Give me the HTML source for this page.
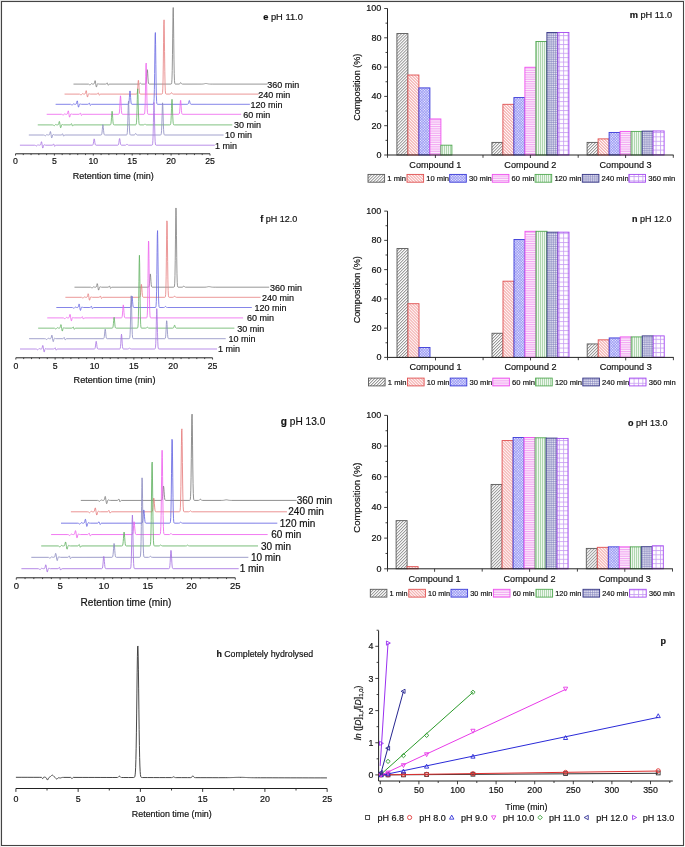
<!DOCTYPE html>
<html><head><meta charset="utf-8"><style>
html,body{margin:0;padding:0;background:#fff;}
body{width:685px;height:847px;overflow:hidden;font-family:"Liberation Sans", sans-serif;}
svg{display:block;will-change:transform;filter:blur(0.35px);}
text{stroke:#111;stroke-width:0.18px;}
</style></head><body>
<svg width="685" height="847" viewBox="0 0 685 847" font-family='"Liberation Sans", sans-serif' fill="#111">
<rect x="0" y="0" width="685" height="847" fill="#fff"/>
<line x1="15.5" y1="153.8" x2="210" y2="153.8" stroke="#222" stroke-width="1"/>
<line x1="15.5" y1="153.8" x2="15.5" y2="155.6" stroke="#222" stroke-width="0.8"/>
<text x="15.5" y="163.9" font-size="8.7" text-anchor="middle">0</text>
<line x1="23.28" y1="153.8" x2="23.28" y2="155.1" stroke="#222" stroke-width="0.8"/>
<line x1="31.06" y1="153.8" x2="31.06" y2="155.1" stroke="#222" stroke-width="0.8"/>
<line x1="38.84" y1="153.8" x2="38.84" y2="155.1" stroke="#222" stroke-width="0.8"/>
<line x1="46.62" y1="153.8" x2="46.62" y2="155.1" stroke="#222" stroke-width="0.8"/>
<line x1="54.4" y1="153.8" x2="54.4" y2="155.6" stroke="#222" stroke-width="0.8"/>
<text x="54.4" y="163.9" font-size="8.7" text-anchor="middle">5</text>
<line x1="62.18" y1="153.8" x2="62.18" y2="155.1" stroke="#222" stroke-width="0.8"/>
<line x1="69.96" y1="153.8" x2="69.96" y2="155.1" stroke="#222" stroke-width="0.8"/>
<line x1="77.74" y1="153.8" x2="77.74" y2="155.1" stroke="#222" stroke-width="0.8"/>
<line x1="85.52" y1="153.8" x2="85.52" y2="155.1" stroke="#222" stroke-width="0.8"/>
<line x1="93.3" y1="153.8" x2="93.3" y2="155.6" stroke="#222" stroke-width="0.8"/>
<text x="93.3" y="163.9" font-size="8.7" text-anchor="middle">10</text>
<line x1="101.08" y1="153.8" x2="101.08" y2="155.1" stroke="#222" stroke-width="0.8"/>
<line x1="108.86" y1="153.8" x2="108.86" y2="155.1" stroke="#222" stroke-width="0.8"/>
<line x1="116.64" y1="153.8" x2="116.64" y2="155.1" stroke="#222" stroke-width="0.8"/>
<line x1="124.42" y1="153.8" x2="124.42" y2="155.1" stroke="#222" stroke-width="0.8"/>
<line x1="132.2" y1="153.8" x2="132.2" y2="155.6" stroke="#222" stroke-width="0.8"/>
<text x="132.2" y="163.9" font-size="8.7" text-anchor="middle">15</text>
<line x1="139.98" y1="153.8" x2="139.98" y2="155.1" stroke="#222" stroke-width="0.8"/>
<line x1="147.76" y1="153.8" x2="147.76" y2="155.1" stroke="#222" stroke-width="0.8"/>
<line x1="155.54" y1="153.8" x2="155.54" y2="155.1" stroke="#222" stroke-width="0.8"/>
<line x1="163.32" y1="153.8" x2="163.32" y2="155.1" stroke="#222" stroke-width="0.8"/>
<line x1="171.1" y1="153.8" x2="171.1" y2="155.6" stroke="#222" stroke-width="0.8"/>
<text x="171.1" y="163.9" font-size="8.7" text-anchor="middle">20</text>
<line x1="178.88" y1="153.8" x2="178.88" y2="155.1" stroke="#222" stroke-width="0.8"/>
<line x1="186.66" y1="153.8" x2="186.66" y2="155.1" stroke="#222" stroke-width="0.8"/>
<line x1="194.44" y1="153.8" x2="194.44" y2="155.1" stroke="#222" stroke-width="0.8"/>
<line x1="202.22" y1="153.8" x2="202.22" y2="155.1" stroke="#222" stroke-width="0.8"/>
<line x1="210" y1="153.8" x2="210" y2="155.6" stroke="#222" stroke-width="0.8"/>
<text x="210" y="163.9" font-size="8.7" text-anchor="middle">25</text>
<text x="113.2" y="179.1" font-size="9.0" text-anchor="middle">Retention time (min)</text>
<path d="M73.48,84.1 L88.23,84.11 L88.48,84.14 L88.73,84.19 L88.98,84.3 L89.23,84.47 L89.48,84.66 L89.73,84.83 L89.98,84.89 L90.23,84.8 L90.48,84.57 L90.73,84.25 L90.98,83.94 L91.23,83.71 L91.48,83.65 L91.73,83.72 L91.98,83.86 L92.23,83.98 L92.48,84.06 L92.73,84.09 L93.23,84.1 L93.48,84.09 L93.73,84.06 L93.98,83.92 L94.23,83.5 L94.48,82.62 L94.73,81.44 L94.98,80.61 L95.23,80.81 L95.48,82.08 L95.73,83.89 L95.98,85.63 L96.23,86.8 L96.48,86.98 L96.73,86.26 L96.98,85.19 L97.23,84.33 L97.48,83.83 L97.73,83.64 L97.98,83.64 L98.23,83.77 L98.48,83.91 L98.73,84.02 L98.98,84.07 L99.23,84.09 L105.73,84.1 L105.98,84.08 L106.23,84.01 L106.48,83.81 L106.73,83.44 L106.98,83.02 L107.23,82.85 L107.48,83.22 L107.73,84.04 L107.98,84.86 L108.23,85.24 L108.48,85.1 L108.73,84.71 L108.98,84.37 L109.23,84.19 L109.48,84.12 L109.73,84.1 L138.73,84.1 L138.98,84.08 L139.23,84.04 L139.48,83.93 L139.73,83.75 L139.98,83.52 L140.23,83.34 L140.48,83.31 L140.73,83.45 L140.98,83.67 L141.23,83.88 L141.48,84.01 L141.73,84.07 L141.98,84.09 L145.23,84.09 L145.48,84.07 L145.73,83.95 L145.98,83.52 L146.23,82.34 L146.48,79.89 L146.73,76.09 L146.98,72.02 L147.23,69.63 L147.48,70.35 L147.73,73.73 L147.98,77.89 L148.23,81.15 L148.48,82.99 L148.73,83.77 L148.98,84.02 L149.23,84.09 L149.48,84.1 L170.98,84.09 L171.23,84.04 L171.48,83.78 L171.73,82.69 L171.98,79.21 L172.23,70.64 L172.48,54.69 L172.73,33.12 L172.98,13.97 L173.23,7.53 L173.48,17.75 L173.73,38.47 L173.98,59.2 L174.23,73.31 L174.48,80.39 L174.73,83.09 L174.98,83.88 L175.23,84.06 L175.48,84.09 L178.98,84.09 L179.23,84.07 L179.48,84 L179.73,83.84 L179.98,83.52 L180.23,83.1 L180.48,82.73 L180.73,82.6 L180.98,82.8 L181.23,83.21 L181.48,83.61 L181.73,83.89 L181.98,84.03 L182.23,84.08 L182.48,84.1 L201.73,84.09 L202.73,84.04 L202.98,84.02 L203.23,83.99 L203.48,83.95 L203.73,83.91 L203.98,83.86 L204.23,83.8 L204.48,83.74 L204.73,83.68 L204.98,83.62 L205.23,83.57 L205.48,83.53 L205.73,83.51 L206.23,83.51 L206.48,83.53 L206.73,83.57 L206.98,83.62 L207.23,83.67 L207.48,83.73 L207.73,83.79 L207.98,83.85 L208.23,83.9 L208.48,83.95 L208.73,83.99 L208.98,84.02 L209.23,84.04 L209.48,84.06 L209.73,84.07 L210.23,84.09 L212.23,84.1 L267.42,84.1" fill="none" stroke="#7c7c7c" stroke-width="0.8" stroke-linejoin="round"/>
<text x="267.3" y="87.5" font-size="9.0">360 min</text>
<path d="M64.55,94.1 L79.3,94.11 L79.55,94.14 L79.8,94.19 L80.05,94.3 L80.3,94.47 L80.55,94.66 L80.8,94.83 L81.05,94.89 L81.3,94.8 L81.55,94.57 L81.8,94.25 L82.05,93.94 L82.3,93.71 L82.55,93.65 L82.8,93.72 L83.05,93.86 L83.3,93.98 L83.55,94.06 L83.8,94.09 L84.3,94.1 L84.55,94.09 L84.8,94.06 L85.05,93.92 L85.3,93.5 L85.55,92.62 L85.8,91.44 L86.05,90.61 L86.3,90.81 L86.55,92.08 L86.8,93.89 L87.05,95.63 L87.3,96.8 L87.55,96.98 L87.8,96.26 L88.05,95.19 L88.3,94.33 L88.55,93.83 L88.8,93.64 L89.05,93.64 L89.3,93.77 L89.55,93.91 L89.8,94.02 L90.05,94.07 L90.3,94.09 L96.8,94.1 L97.05,94.08 L97.3,94.01 L97.55,93.81 L97.8,93.44 L98.05,93.02 L98.3,92.85 L98.55,93.22 L98.8,94.04 L99.05,94.86 L99.3,95.24 L99.55,95.1 L99.8,94.71 L100.05,94.37 L100.3,94.19 L100.55,94.12 L100.8,94.1 L136.3,94.1 L136.55,94.07 L136.8,93.98 L137.05,93.62 L137.3,92.6 L137.55,90.39 L137.8,86.85 L138.05,82.86 L138.3,80.26 L138.55,80.57 L138.8,83.61 L139.05,87.64 L139.3,90.95 L139.55,92.88 L139.8,93.72 L140.05,94.01 L140.3,94.08 L140.55,94.1 L161.8,94.09 L162.05,94.03 L162.3,93.74 L162.55,92.57 L162.8,88.9 L163.05,80.04 L163.3,63.95 L163.55,42.8 L163.8,24.82 L164.05,19.84 L164.3,30.94 L164.55,51.46 L164.8,71.26 L165.05,84.39 L165.3,90.82 L165.55,93.22 L165.8,93.91 L166.05,94.07 L166.3,94.1 L169.8,94.09 L170.05,94.07 L170.3,94 L170.55,93.82 L170.8,93.49 L171.05,93.07 L171.3,92.71 L171.55,92.61 L171.8,92.83 L172.05,93.24 L172.3,93.64 L172.55,93.9 L172.8,94.03 L173.05,94.08 L173.3,94.1 L258.65,94.1" fill="none" stroke="#e67e7e" stroke-width="0.8" stroke-linejoin="round"/>
<text x="258.3" y="97.5" font-size="9.0">240 min</text>
<path d="M55.62,104.3 L70.37,104.31 L70.62,104.34 L70.87,104.39 L71.12,104.5 L71.37,104.67 L71.62,104.86 L71.87,105.03 L72.12,105.09 L72.37,105 L72.62,104.77 L72.87,104.45 L73.12,104.14 L73.37,103.91 L73.62,103.85 L73.87,103.92 L74.12,104.06 L74.37,104.18 L74.62,104.26 L74.87,104.29 L75.37,104.3 L75.62,104.29 L75.87,104.26 L76.12,104.12 L76.37,103.7 L76.62,102.82 L76.87,101.64 L77.12,100.81 L77.37,101.01 L77.62,102.28 L77.87,104.09 L78.12,105.83 L78.37,107 L78.62,107.18 L78.87,106.46 L79.12,105.39 L79.37,104.53 L79.62,104.03 L79.87,103.84 L80.12,103.84 L80.37,103.97 L80.62,104.11 L80.87,104.22 L81.12,104.27 L81.37,104.29 L87.87,104.3 L88.12,104.28 L88.37,104.21 L88.62,104.01 L88.87,103.64 L89.12,103.22 L89.37,103.05 L89.62,103.42 L89.87,104.24 L90.12,105.06 L90.37,105.44 L90.62,105.3 L90.87,104.91 L91.12,104.57 L91.37,104.39 L91.62,104.32 L91.87,104.3 L127.87,104.3 L128.12,104.28 L128.37,104.2 L128.62,103.9 L128.87,103.01 L129.12,101.03 L129.37,97.72 L129.62,93.81 L129.87,91.02 L130.12,90.96 L130.37,93.66 L130.62,97.57 L130.87,100.92 L131.12,102.95 L131.37,103.87 L131.62,104.19 L131.87,104.28 L132.12,104.3 L153.12,104.29 L153.37,104.23 L153.62,103.91 L153.87,102.65 L154.12,98.78 L154.37,89.67 L154.62,73.51 L154.87,52.87 L155.12,36.11 L155.37,32.55 L155.62,44.39 L155.87,64.6 L156.12,83.42 L156.37,95.58 L156.62,101.41 L156.87,103.54 L157.12,104.14 L157.37,104.27 L157.62,104.3 L187.37,104.3 L187.62,104.28 L187.87,104.21 L188.12,104.01 L188.37,103.53 L188.62,102.68 L188.87,101.6 L189.12,100.72 L189.37,100.53 L189.62,101.16 L189.87,102.22 L190.12,103.2 L190.37,103.84 L190.62,104.15 L190.87,104.26 L191.12,104.29 L249.88,104.3" fill="none" stroke="#6666e2" stroke-width="0.8" stroke-linejoin="round"/>
<text x="250.5" y="107.7" font-size="9.0">120 min</text>
<path d="M46.69,114.3 L61.44,114.31 L61.69,114.34 L61.94,114.39 L62.19,114.5 L62.44,114.67 L62.69,114.86 L62.94,115.03 L63.19,115.09 L63.44,115 L63.69,114.77 L63.94,114.45 L64.19,114.14 L64.44,113.91 L64.69,113.85 L64.94,113.92 L65.19,114.06 L65.44,114.18 L65.69,114.26 L65.94,114.29 L66.44,114.3 L66.69,114.29 L66.94,114.26 L67.19,114.12 L67.44,113.7 L67.69,112.82 L67.94,111.64 L68.19,110.81 L68.44,111.01 L68.69,112.28 L68.94,114.09 L69.19,115.83 L69.44,117 L69.69,117.18 L69.94,116.46 L70.19,115.39 L70.44,114.53 L70.69,114.03 L70.94,113.84 L71.19,113.84 L71.44,113.97 L71.69,114.11 L71.94,114.22 L72.19,114.27 L72.44,114.29 L78.94,114.3 L79.19,114.28 L79.44,114.21 L79.69,114.01 L79.94,113.64 L80.19,113.22 L80.44,113.05 L80.69,113.42 L80.94,114.24 L81.19,115.06 L81.44,115.44 L81.69,115.3 L81.94,114.91 L82.19,114.57 L82.44,114.39 L82.69,114.32 L82.94,114.3 L118.44,114.29 L118.69,114.26 L118.94,114.09 L119.19,113.52 L119.44,111.97 L119.69,108.77 L119.94,103.88 L120.19,98.73 L120.44,95.82 L120.69,96.9 L120.94,101.3 L121.19,106.59 L121.44,110.67 L121.69,112.94 L121.94,113.9 L122.19,114.21 L122.44,114.28 L122.69,114.3 L143.94,114.29 L144.19,114.24 L144.44,113.98 L144.69,112.98 L144.94,109.98 L145.19,103.05 L145.44,91.06 L145.69,76.19 L145.94,64.7 L146.19,63.07 L146.44,72.31 L146.69,86.98 L146.94,100.2 L147.19,108.52 L147.44,112.42 L147.69,113.81 L147.94,114.2 L148.19,114.28 L148.44,114.3 L178.44,114.3 L178.69,114.28 L178.94,114.21 L179.19,113.94 L179.44,113.12 L179.69,111.23 L179.94,107.95 L180.19,103.89 L180.44,100.76 L180.69,100.31 L180.94,102.83 L181.19,106.84 L181.44,110.45 L181.69,112.72 L181.94,113.79 L182.19,114.17 L182.44,114.27 L182.69,114.3 L241.11,114.3" fill="none" stroke="#ee62ee" stroke-width="0.8" stroke-linejoin="round"/>
<text x="243.2" y="117.7" font-size="9.0">60 min</text>
<path d="M37.76,124.9 L52.51,124.91 L52.76,124.94 L53.01,124.99 L53.26,125.1 L53.51,125.27 L53.76,125.46 L54.01,125.63 L54.26,125.69 L54.51,125.6 L54.76,125.37 L55.01,125.05 L55.26,124.74 L55.51,124.51 L55.76,124.45 L56.01,124.52 L56.26,124.66 L56.51,124.78 L56.76,124.86 L57.01,124.89 L57.51,124.9 L57.76,124.89 L58.01,124.86 L58.26,124.72 L58.51,124.3 L58.76,123.42 L59.01,122.24 L59.26,121.41 L59.51,121.61 L59.76,122.88 L60.01,124.69 L60.26,126.43 L60.51,127.6 L60.76,127.78 L61.01,127.06 L61.26,125.99 L61.51,125.13 L61.76,124.63 L62.01,124.44 L62.26,124.44 L62.51,124.57 L62.76,124.71 L63.01,124.82 L63.26,124.87 L63.51,124.89 L70.01,124.9 L70.26,124.88 L70.51,124.81 L70.76,124.61 L71.01,124.24 L71.26,123.82 L71.51,123.65 L71.76,124.02 L72.01,124.84 L72.26,125.66 L72.51,126.04 L72.76,125.9 L73.01,125.51 L73.26,125.17 L73.51,124.99 L73.76,124.92 L74.01,124.9 L110.01,124.9 L110.26,124.87 L110.51,124.77 L110.76,124.4 L111.01,123.36 L111.26,121.13 L111.51,117.6 L111.76,113.68 L112.01,111.21 L112.26,111.64 L112.51,114.71 L112.76,118.69 L113.01,121.89 L113.26,123.75 L113.51,124.55 L113.76,124.81 L114.01,124.88 L114.26,124.9 L135.51,124.89 L135.76,124.87 L136.01,124.72 L136.26,124.12 L136.51,122.25 L136.76,117.82 L137.01,109.85 L137.26,99.52 L137.51,90.94 L137.76,88.84 L138.01,94.51 L138.26,104.57 L138.51,114.11 L138.76,120.35 L139.01,123.38 L139.26,124.5 L139.51,124.82 L139.76,124.89 L140.01,124.9 L143.26,124.9 L143.51,124.88 L143.76,124.84 L144.01,124.74 L144.26,124.54 L144.51,124.26 L144.76,124 L145.01,123.9 L145.26,124.02 L145.51,124.28 L145.76,124.56 L146.01,124.75 L146.26,124.85 L146.51,124.89 L146.76,124.9 L169.76,124.9 L170.01,124.88 L170.26,124.81 L170.51,124.48 L170.76,123.41 L171.01,120.72 L171.26,115.6 L171.51,108.48 L171.76,101.89 L172.01,99.3 L172.26,102.31 L172.51,109.07 L172.76,116.1 L173.01,121.02 L173.26,123.54 L173.51,124.52 L173.76,124.82 L174.01,124.89 L174.26,124.9 L232.34,124.9" fill="none" stroke="#62b262" stroke-width="0.8" stroke-linejoin="round"/>
<text x="233.9" y="128.3" font-size="9.0">30 min</text>
<path d="M28.83,135 L43.58,135.01 L43.83,135.04 L44.08,135.09 L44.33,135.2 L44.58,135.37 L44.83,135.56 L45.08,135.73 L45.33,135.79 L45.58,135.7 L45.83,135.47 L46.08,135.15 L46.33,134.84 L46.58,134.61 L46.83,134.55 L47.08,134.62 L47.33,134.76 L47.58,134.88 L47.83,134.96 L48.08,134.99 L48.58,135 L48.83,134.99 L49.08,134.96 L49.33,134.82 L49.58,134.4 L49.83,133.52 L50.08,132.34 L50.33,131.51 L50.58,131.71 L50.83,132.98 L51.08,134.79 L51.33,136.53 L51.58,137.7 L51.83,137.88 L52.08,137.16 L52.33,136.09 L52.58,135.23 L52.83,134.73 L53.08,134.54 L53.33,134.54 L53.58,134.67 L53.83,134.81 L54.08,134.92 L54.33,134.97 L54.58,134.99 L61.08,135 L61.33,134.98 L61.58,134.91 L61.83,134.71 L62.08,134.34 L62.33,133.92 L62.58,133.75 L62.83,134.12 L63.08,134.94 L63.33,135.76 L63.58,136.14 L63.83,136 L64.08,135.61 L64.33,135.27 L64.58,135.09 L64.83,135.02 L65.08,135 L100.83,135 L101.08,134.98 L101.33,134.89 L101.58,134.59 L101.83,133.75 L102.08,132 L102.33,129.3 L102.58,126.39 L102.83,124.69 L103.08,125.2 L103.33,127.61 L103.58,130.58 L103.83,132.9 L104.08,134.21 L104.33,134.76 L104.58,134.94 L104.83,134.99 L105.33,135 L126.33,134.99 L126.58,134.96 L126.83,134.8 L127.08,134.18 L127.33,132.28 L127.58,127.85 L127.83,120.09 L128.08,110.32 L128.33,102.58 L128.58,101.2 L128.83,107.04 L129.08,116.64 L129.33,125.43 L129.58,131.04 L129.83,133.7 L130.08,134.66 L130.33,134.93 L130.58,134.99 L131.08,135 L134.08,134.99 L134.33,134.95 L134.58,134.85 L134.83,134.63 L135.08,134.26 L135.33,133.84 L135.58,133.54 L135.83,133.55 L136.08,133.85 L136.33,134.28 L136.58,134.64 L136.83,134.86 L137.08,134.96 L137.33,134.99 L137.83,135 L160.33,135 L160.58,134.98 L160.83,134.9 L161.08,134.55 L161.33,133.37 L161.58,130.3 L161.83,124.24 L162.08,115.47 L162.33,106.86 L162.58,102.82 L162.83,105.8 L163.08,113.97 L163.33,122.98 L163.58,129.55 L163.83,133.04 L164.08,134.44 L164.33,134.87 L164.58,134.98 L164.83,135 L223.57,135" fill="none" stroke="#8c8cc0" stroke-width="0.8" stroke-linejoin="round"/>
<text x="225.1" y="138.4" font-size="9.0">10 min</text>
<path d="M19.9,145.2 L34.65,145.21 L34.9,145.24 L35.15,145.29 L35.4,145.4 L35.65,145.57 L35.9,145.76 L36.15,145.93 L36.4,145.99 L36.65,145.9 L36.9,145.67 L37.15,145.35 L37.4,145.04 L37.65,144.81 L37.9,144.75 L38.15,144.82 L38.4,144.96 L38.65,145.08 L38.9,145.16 L39.15,145.19 L39.65,145.2 L39.9,145.19 L40.15,145.16 L40.4,145.02 L40.65,144.6 L40.9,143.72 L41.15,142.54 L41.4,141.71 L41.65,141.91 L41.9,143.18 L42.15,144.99 L42.4,146.73 L42.65,147.9 L42.9,148.08 L43.15,147.36 L43.4,146.29 L43.65,145.43 L43.9,144.93 L44.15,144.74 L44.4,144.74 L44.65,144.87 L44.9,145.01 L45.15,145.12 L45.4,145.17 L45.65,145.19 L52.15,145.2 L52.4,145.18 L52.65,145.11 L52.9,144.91 L53.15,144.54 L53.4,144.12 L53.65,143.95 L53.9,144.32 L54.15,145.14 L54.4,145.96 L54.65,146.34 L54.9,146.2 L55.15,145.81 L55.4,145.47 L55.65,145.29 L55.9,145.22 L56.15,145.2 L92.15,145.2 L92.4,145.18 L92.65,145.12 L92.9,144.92 L93.15,144.37 L93.4,143.24 L93.65,141.54 L93.9,139.78 L94.15,138.83 L94.4,139.26 L94.65,140.8 L94.9,142.61 L95.15,143.99 L95.4,144.75 L95.65,145.07 L95.9,145.17 L96.15,145.19 L117.65,145.19 L117.9,145.17 L118.15,145.06 L118.4,144.73 L118.65,143.94 L118.9,142.49 L119.15,140.59 L119.4,138.98 L119.65,138.53 L119.9,139.53 L120.15,141.37 L120.4,143.15 L120.65,144.33 L120.9,144.91 L121.15,145.12 L121.4,145.18 L121.65,145.2 L125.4,145.19 L125.65,145.17 L125.9,145.09 L126.15,144.94 L126.4,144.69 L126.65,144.4 L126.9,144.22 L127.15,144.24 L127.4,144.46 L127.65,144.74 L127.9,144.98 L128.15,145.11 L128.4,145.17 L128.65,145.19 L151.65,145.2 L151.9,145.19 L152.15,145.12 L152.4,144.82 L152.65,143.7 L152.9,140.54 L153.15,133.71 L153.4,122.74 L153.65,110.36 L153.9,102.3 L154.15,103.28 L154.4,112.69 L154.65,125.19 L154.9,135.43 L155.15,141.41 L155.4,144.03 L155.65,144.92 L155.9,145.14 L156.15,145.19 L214.8,145.2" fill="none" stroke="#a874e2" stroke-width="0.8" stroke-linejoin="round"/>
<text x="215" y="148.6" font-size="9.0">1 min</text>
<text x="263.2" y="19.9" font-size="9.3"><tspan font-weight="bold">e</tspan> pH 11.0</text>
<line x1="15.8" y1="357.8" x2="212.55" y2="357.8" stroke="#222" stroke-width="1"/>
<line x1="15.8" y1="357.8" x2="15.8" y2="359.6" stroke="#222" stroke-width="0.8"/>
<text x="15.8" y="368.7" font-size="8.7" text-anchor="middle">0</text>
<line x1="23.67" y1="357.8" x2="23.67" y2="359.1" stroke="#222" stroke-width="0.8"/>
<line x1="31.54" y1="357.8" x2="31.54" y2="359.1" stroke="#222" stroke-width="0.8"/>
<line x1="39.41" y1="357.8" x2="39.41" y2="359.1" stroke="#222" stroke-width="0.8"/>
<line x1="47.28" y1="357.8" x2="47.28" y2="359.1" stroke="#222" stroke-width="0.8"/>
<line x1="55.15" y1="357.8" x2="55.15" y2="359.6" stroke="#222" stroke-width="0.8"/>
<text x="55.15" y="368.7" font-size="8.7" text-anchor="middle">5</text>
<line x1="63.02" y1="357.8" x2="63.02" y2="359.1" stroke="#222" stroke-width="0.8"/>
<line x1="70.89" y1="357.8" x2="70.89" y2="359.1" stroke="#222" stroke-width="0.8"/>
<line x1="78.76" y1="357.8" x2="78.76" y2="359.1" stroke="#222" stroke-width="0.8"/>
<line x1="86.63" y1="357.8" x2="86.63" y2="359.1" stroke="#222" stroke-width="0.8"/>
<line x1="94.5" y1="357.8" x2="94.5" y2="359.6" stroke="#222" stroke-width="0.8"/>
<text x="94.5" y="368.7" font-size="8.7" text-anchor="middle">10</text>
<line x1="102.37" y1="357.8" x2="102.37" y2="359.1" stroke="#222" stroke-width="0.8"/>
<line x1="110.24" y1="357.8" x2="110.24" y2="359.1" stroke="#222" stroke-width="0.8"/>
<line x1="118.11" y1="357.8" x2="118.11" y2="359.1" stroke="#222" stroke-width="0.8"/>
<line x1="125.98" y1="357.8" x2="125.98" y2="359.1" stroke="#222" stroke-width="0.8"/>
<line x1="133.85" y1="357.8" x2="133.85" y2="359.6" stroke="#222" stroke-width="0.8"/>
<text x="133.85" y="368.7" font-size="8.7" text-anchor="middle">15</text>
<line x1="141.72" y1="357.8" x2="141.72" y2="359.1" stroke="#222" stroke-width="0.8"/>
<line x1="149.59" y1="357.8" x2="149.59" y2="359.1" stroke="#222" stroke-width="0.8"/>
<line x1="157.46" y1="357.8" x2="157.46" y2="359.1" stroke="#222" stroke-width="0.8"/>
<line x1="165.33" y1="357.8" x2="165.33" y2="359.1" stroke="#222" stroke-width="0.8"/>
<line x1="173.2" y1="357.8" x2="173.2" y2="359.6" stroke="#222" stroke-width="0.8"/>
<text x="173.2" y="368.7" font-size="8.7" text-anchor="middle">20</text>
<line x1="181.07" y1="357.8" x2="181.07" y2="359.1" stroke="#222" stroke-width="0.8"/>
<line x1="188.94" y1="357.8" x2="188.94" y2="359.1" stroke="#222" stroke-width="0.8"/>
<line x1="196.81" y1="357.8" x2="196.81" y2="359.1" stroke="#222" stroke-width="0.8"/>
<line x1="204.68" y1="357.8" x2="204.68" y2="359.1" stroke="#222" stroke-width="0.8"/>
<line x1="212.55" y1="357.8" x2="212.55" y2="359.6" stroke="#222" stroke-width="0.8"/>
<text x="212.55" y="368.7" font-size="8.7" text-anchor="middle">25</text>
<text x="114.5" y="383.3" font-size="9.1" text-anchor="middle">Retention time (min)</text>
<path d="M74.48,287.2 L90.23,287.21 L90.48,287.22 L90.73,287.25 L90.98,287.33 L91.23,287.46 L91.48,287.65 L91.73,287.84 L91.98,287.98 L92.23,287.98 L92.48,287.84 L92.73,287.57 L92.98,287.24 L93.23,286.95 L93.48,286.77 L93.73,286.75 L93.98,286.86 L94.23,287 L94.48,287.11 L94.73,287.17 L94.98,287.19 L95.73,287.19 L95.98,287.14 L96.23,286.96 L96.48,286.45 L96.73,285.49 L96.98,284.32 L97.23,283.63 L97.48,284.02 L97.73,285.41 L97.98,287.24 L98.23,288.94 L98.48,290 L98.73,290.07 L98.98,289.28 L99.23,288.22 L99.48,287.38 L99.73,286.91 L99.98,286.73 L100.23,286.74 L100.48,286.87 L100.73,287.01 L100.98,287.12 L101.23,287.17 L101.48,287.19 L107.98,287.2 L108.23,287.19 L108.48,287.14 L108.73,286.98 L108.98,286.66 L109.23,286.23 L109.48,285.94 L109.73,286.12 L109.98,286.83 L110.23,287.71 L110.48,288.28 L110.73,288.31 L110.98,287.97 L111.23,287.59 L111.48,287.34 L111.73,287.24 L111.98,287.21 L148.23,287.2 L148.48,287.17 L148.73,287.06 L148.98,286.67 L149.23,285.59 L149.48,283.34 L149.73,279.85 L149.98,276.11 L150.23,273.92 L150.48,274.58 L150.73,277.68 L150.98,281.5 L151.23,284.49 L151.48,286.18 L151.73,286.89 L151.98,287.13 L152.23,287.19 L152.48,287.2 L173.73,287.19 L173.98,287.16 L174.23,286.96 L174.48,286.09 L174.73,283.18 L174.98,275.62 L175.23,260.71 L175.48,239.1 L175.73,217.9 L175.98,207.96 L176.23,215.29 L176.48,235.41 L176.73,257.6 L176.98,273.77 L177.23,282.37 L177.48,285.82 L177.73,286.89 L177.98,287.14 L178.23,287.19 L182.23,287.19 L182.48,287.15 L182.73,287.06 L182.98,286.85 L183.23,286.54 L183.48,286.21 L183.73,286.01 L183.98,286.07 L184.23,286.35 L184.48,286.69 L184.73,286.96 L184.98,287.11 L185.23,287.17 L185.48,287.19 L203.98,287.2 L204.98,287.18 L205.98,287.12 L206.23,287.09 L206.48,287.05 L206.73,287.01 L206.98,286.96 L207.23,286.9 L207.48,286.84 L207.73,286.78 L207.98,286.72 L208.23,286.67 L208.48,286.63 L208.73,286.61 L209.23,286.61 L209.48,286.63 L209.73,286.67 L209.98,286.72 L210.23,286.77 L210.48,286.83 L210.73,286.89 L210.98,286.95 L211.23,287 L211.48,287.05 L211.73,287.09 L211.98,287.12 L212.23,287.14 L212.48,287.16 L212.73,287.17 L213.23,287.19 L215.23,287.2 L269.2,287.2" fill="none" stroke="#7c7c7c" stroke-width="0.8" stroke-linejoin="round"/>
<text x="269.9" y="290.6" font-size="9.0">360 min</text>
<path d="M65.4,297.3 L81.15,297.31 L81.4,297.32 L81.65,297.35 L81.9,297.43 L82.15,297.56 L82.4,297.75 L82.65,297.94 L82.9,298.08 L83.15,298.08 L83.4,297.94 L83.65,297.67 L83.9,297.34 L84.15,297.05 L84.4,296.87 L84.65,296.85 L84.9,296.96 L85.15,297.1 L85.4,297.21 L85.65,297.27 L85.9,297.29 L86.65,297.29 L86.9,297.24 L87.15,297.06 L87.4,296.55 L87.65,295.59 L87.9,294.42 L88.15,293.73 L88.4,294.12 L88.65,295.51 L88.9,297.34 L89.15,299.04 L89.4,300.1 L89.65,300.17 L89.9,299.38 L90.15,298.32 L90.4,297.48 L90.65,297.01 L90.9,296.83 L91.15,296.84 L91.4,296.97 L91.65,297.11 L91.9,297.22 L92.15,297.27 L92.4,297.29 L98.9,297.3 L99.15,297.29 L99.4,297.24 L99.65,297.08 L99.9,296.76 L100.15,296.33 L100.4,296.04 L100.65,296.22 L100.9,296.93 L101.15,297.81 L101.4,298.38 L101.65,298.41 L101.9,298.07 L102.15,297.69 L102.4,297.44 L102.65,297.34 L102.9,297.31 L139.4,297.29 L139.65,297.26 L139.9,297.1 L140.15,296.58 L140.4,295.27 L140.65,292.74 L140.9,289.17 L141.15,285.81 L141.4,284.4 L141.65,285.81 L141.9,289.17 L142.15,292.74 L142.4,295.27 L142.65,296.58 L142.9,297.1 L143.15,297.26 L143.4,297.29 L164.65,297.3 L164.9,297.28 L165.15,297.16 L165.4,296.61 L165.65,294.62 L165.9,288.99 L166.15,276.82 L166.4,257.27 L166.65,235.19 L166.9,220.83 L167.15,222.57 L167.4,239.35 L167.65,261.63 L167.9,279.88 L168.15,290.55 L168.4,295.22 L168.65,296.79 L168.9,297.2 L169.15,297.28 L169.4,297.3 L172.9,297.29 L173.15,297.28 L173.4,297.22 L173.65,297.07 L173.9,296.82 L174.15,296.47 L174.4,296.19 L174.65,296.11 L174.9,296.28 L175.15,296.61 L175.4,296.93 L175.65,297.14 L175.9,297.25 L176.15,297.29 L176.4,297.3 L260.5,297.3" fill="none" stroke="#e67e7e" stroke-width="0.8" stroke-linejoin="round"/>
<text x="261.9" y="300.7" font-size="9.0">240 min</text>
<path d="M56.32,307.5 L72.07,307.51 L72.32,307.52 L72.57,307.55 L72.82,307.63 L73.07,307.76 L73.32,307.95 L73.57,308.14 L73.82,308.28 L74.07,308.28 L74.32,308.14 L74.57,307.87 L74.82,307.54 L75.07,307.25 L75.32,307.07 L75.57,307.05 L75.82,307.16 L76.07,307.3 L76.32,307.41 L76.57,307.47 L76.82,307.49 L77.57,307.49 L77.82,307.44 L78.07,307.26 L78.32,306.75 L78.57,305.79 L78.82,304.62 L79.07,303.93 L79.32,304.32 L79.57,305.71 L79.82,307.54 L80.07,309.24 L80.32,310.3 L80.57,310.37 L80.82,309.58 L81.07,308.52 L81.32,307.68 L81.57,307.21 L81.82,307.03 L82.07,307.04 L82.32,307.17 L82.57,307.31 L82.82,307.42 L83.07,307.47 L83.32,307.49 L89.82,307.5 L90.07,307.49 L90.32,307.44 L90.57,307.28 L90.82,306.96 L91.07,306.53 L91.32,306.24 L91.57,306.42 L91.82,307.13 L92.07,308.01 L92.32,308.58 L92.57,308.61 L92.82,308.27 L93.07,307.89 L93.32,307.64 L93.57,307.54 L93.82,307.51 L130.07,307.49 L130.32,307.44 L130.57,307.24 L130.82,306.63 L131.07,305.2 L131.32,302.65 L131.57,299.4 L131.82,296.76 L132.07,296.2 L132.32,298.07 L132.57,301.25 L132.82,304.21 L133.07,306.13 L133.32,307.05 L133.57,307.38 L133.82,307.48 L134.07,307.5 L155.07,307.5 L155.32,307.49 L155.57,307.42 L155.82,307.08 L156.07,305.73 L156.32,301.59 L156.57,291.82 L156.82,274.5 L157.07,252.37 L157.32,234.41 L157.57,230.6 L157.82,243.29 L158.07,264.95 L158.32,285.12 L158.57,298.16 L158.82,304.41 L159.07,306.69 L159.32,307.33 L159.57,307.47 L159.82,307.5 L163.82,307.49 L164.07,307.48 L164.32,307.42 L164.57,307.3 L164.82,307.07 L165.07,306.79 L165.32,306.56 L165.57,306.51 L165.82,306.67 L166.07,306.95 L166.32,307.21 L166.57,307.38 L166.82,307.46 L167.07,307.49 L167.57,307.5 L251.8,307.5" fill="none" stroke="#6666e2" stroke-width="0.8" stroke-linejoin="round"/>
<text x="254.5" y="310.9" font-size="9.0">120 min</text>
<path d="M47.24,317.9 L62.99,317.91 L63.24,317.92 L63.49,317.95 L63.74,318.03 L63.99,318.16 L64.24,318.35 L64.49,318.54 L64.74,318.68 L64.99,318.68 L65.24,318.54 L65.49,318.27 L65.74,317.94 L65.99,317.65 L66.24,317.47 L66.49,317.45 L66.74,317.56 L66.99,317.7 L67.24,317.81 L67.49,317.87 L67.74,317.89 L68.49,317.89 L68.74,317.84 L68.99,317.66 L69.24,317.15 L69.49,316.19 L69.74,315.02 L69.99,314.33 L70.24,314.72 L70.49,316.11 L70.74,317.94 L70.99,319.64 L71.24,320.7 L71.49,320.77 L71.74,319.98 L71.99,318.92 L72.24,318.08 L72.49,317.61 L72.74,317.43 L72.99,317.44 L73.24,317.57 L73.49,317.71 L73.74,317.82 L73.99,317.87 L74.24,317.89 L80.74,317.9 L80.99,317.89 L81.24,317.84 L81.49,317.68 L81.74,317.36 L81.99,316.93 L82.24,316.64 L82.49,316.82 L82.74,317.53 L82.99,318.41 L83.24,318.98 L83.49,319.01 L83.74,318.67 L83.99,318.29 L84.24,318.04 L84.49,317.94 L84.74,317.91 L121.24,317.89 L121.49,317.87 L121.74,317.75 L121.99,317.35 L122.24,316.26 L122.49,314.01 L122.74,310.56 L122.99,306.93 L123.24,304.89 L123.49,305.65 L123.74,308.74 L123.99,312.47 L124.24,315.34 L124.49,316.94 L124.74,317.62 L124.99,317.83 L125.24,317.89 L125.49,317.9 L146.24,317.9 L146.49,317.88 L146.74,317.77 L146.99,317.25 L147.24,315.33 L147.49,309.85 L147.74,297.88 L147.99,278.4 L148.24,256.05 L148.49,241.04 L148.74,242.1 L148.99,258.57 L149.24,281.05 L149.49,299.73 L149.74,310.79 L149.99,315.69 L150.24,317.36 L150.49,317.79 L150.74,317.88 L150.99,317.9 L243.1,317.9" fill="none" stroke="#ee62ee" stroke-width="0.8" stroke-linejoin="round"/>
<text x="247" y="321.3" font-size="9.0">60 min</text>
<path d="M38.16,328.15 L53.91,328.16 L54.16,328.17 L54.41,328.2 L54.66,328.28 L54.91,328.41 L55.16,328.6 L55.41,328.79 L55.66,328.93 L55.91,328.93 L56.16,328.79 L56.41,328.52 L56.66,328.19 L56.91,327.9 L57.16,327.72 L57.41,327.7 L57.66,327.81 L57.91,327.95 L58.16,328.06 L58.41,328.12 L58.66,328.14 L59.41,328.14 L59.66,328.09 L59.91,327.91 L60.16,327.4 L60.41,326.44 L60.66,325.27 L60.91,324.58 L61.16,324.97 L61.41,326.36 L61.66,328.19 L61.91,329.89 L62.16,330.95 L62.41,331.02 L62.66,330.23 L62.91,329.17 L63.16,328.33 L63.41,327.86 L63.66,327.68 L63.91,327.69 L64.16,327.82 L64.41,327.96 L64.66,328.07 L64.91,328.12 L65.16,328.14 L71.66,328.15 L71.91,328.14 L72.16,328.09 L72.41,327.93 L72.66,327.61 L72.91,327.18 L73.16,326.89 L73.41,327.07 L73.66,327.78 L73.91,328.66 L74.16,329.23 L74.41,329.26 L74.66,328.92 L74.91,328.54 L75.16,328.29 L75.41,328.19 L75.66,328.16 L112.16,328.14 L112.41,328.09 L112.66,327.91 L112.91,327.36 L113.16,326.02 L113.41,323.63 L113.66,320.53 L113.91,317.95 L114.16,317.32 L114.41,319.02 L114.66,322.05 L114.91,324.91 L115.16,326.79 L115.41,327.69 L115.66,328.03 L115.91,328.12 L116.16,328.15 L137.16,328.14 L137.41,328.1 L137.66,327.88 L137.91,326.95 L138.16,323.9 L138.41,316.25 L138.66,301.67 L138.91,281.39 L139.16,262.62 L139.41,255.26 L139.66,263.82 L139.91,283.08 L140.16,303.1 L140.41,317.1 L140.66,324.28 L140.91,327.07 L141.16,327.91 L141.41,328.11 L141.66,328.14 L145.66,328.14 L145.91,328.12 L146.16,328.06 L146.41,327.92 L146.66,327.68 L146.91,327.4 L147.16,327.19 L147.41,327.17 L147.66,327.36 L147.91,327.65 L148.16,327.9 L148.41,328.05 L148.66,328.12 L148.91,328.14 L172.66,328.15 L172.91,328.13 L173.16,328.09 L173.41,327.93 L173.66,327.56 L173.91,326.91 L174.16,326.05 L174.41,325.34 L174.66,325.17 L174.91,325.64 L175.16,326.47 L175.41,327.26 L175.66,327.77 L175.91,328.02 L176.16,328.12 L176.41,328.14 L234.4,328.15" fill="none" stroke="#62b262" stroke-width="0.8" stroke-linejoin="round"/>
<text x="237.3" y="331.55" font-size="9.0">30 min</text>
<path d="M29.08,338.7 L44.83,338.71 L45.08,338.72 L45.33,338.75 L45.58,338.83 L45.83,338.96 L46.08,339.15 L46.33,339.34 L46.58,339.48 L46.83,339.48 L47.08,339.34 L47.33,339.07 L47.58,338.74 L47.83,338.45 L48.08,338.27 L48.33,338.25 L48.58,338.36 L48.83,338.5 L49.08,338.61 L49.33,338.67 L49.58,338.69 L50.33,338.69 L50.58,338.64 L50.83,338.46 L51.08,337.95 L51.33,336.99 L51.58,335.82 L51.83,335.13 L52.08,335.52 L52.33,336.91 L52.58,338.74 L52.83,340.44 L53.08,341.5 L53.33,341.57 L53.58,340.78 L53.83,339.72 L54.08,338.88 L54.33,338.41 L54.58,338.23 L54.83,338.24 L55.08,338.37 L55.33,338.51 L55.58,338.62 L55.83,338.67 L56.08,338.69 L62.58,338.7 L62.83,338.69 L63.08,338.64 L63.33,338.48 L63.58,338.16 L63.83,337.73 L64.08,337.44 L64.33,337.62 L64.58,338.33 L64.83,339.21 L65.08,339.78 L65.33,339.81 L65.58,339.47 L65.83,339.09 L66.08,338.84 L66.33,338.74 L66.58,338.71 L103.08,338.7 L103.33,338.68 L103.58,338.62 L103.83,338.4 L104.08,337.75 L104.33,336.31 L104.58,333.93 L104.83,331.17 L105.08,329.25 L105.33,329.3 L105.58,331.27 L105.83,334.04 L106.08,336.38 L106.33,337.79 L106.58,338.41 L106.83,338.63 L107.08,338.69 L107.33,338.7 L129.08,338.69 L129.33,338.63 L129.58,338.36 L129.83,337.33 L130.08,334.36 L130.33,327.82 L130.58,317.04 L130.83,304.46 L131.08,295.76 L131.33,295.96 L131.58,304.93 L131.83,317.53 L132.08,328.17 L132.33,334.54 L132.58,337.4 L132.83,338.38 L133.08,338.64 L133.33,338.69 L134.08,338.7 L164.58,338.7 L164.83,338.67 L165.08,338.56 L165.33,338.13 L165.58,336.89 L165.83,334.16 L166.08,329.66 L166.33,324.42 L166.58,320.78 L166.83,320.87 L167.08,324.61 L167.33,329.87 L167.58,334.31 L167.83,336.96 L168.08,338.16 L168.33,338.56 L168.58,338.67 L168.83,338.7 L225.7,338.7" fill="none" stroke="#8c8cc0" stroke-width="0.8" stroke-linejoin="round"/>
<text x="228.5" y="342.1" font-size="9.0">10 min</text>
<path d="M20,349 L35.75,349.01 L36,349.02 L36.25,349.05 L36.5,349.13 L36.75,349.26 L37,349.45 L37.25,349.64 L37.5,349.78 L37.75,349.78 L38,349.64 L38.25,349.37 L38.5,349.04 L38.75,348.75 L39,348.57 L39.25,348.55 L39.5,348.66 L39.75,348.8 L40,348.91 L40.25,348.97 L40.5,348.99 L41.25,348.99 L41.5,348.94 L41.75,348.76 L42,348.25 L42.25,347.29 L42.5,346.12 L42.75,345.43 L43,345.82 L43.25,347.21 L43.5,349.04 L43.75,350.74 L44,351.8 L44.25,351.87 L44.5,351.08 L44.75,350.02 L45,349.18 L45.25,348.71 L45.5,348.53 L45.75,348.54 L46,348.67 L46.25,348.81 L46.5,348.92 L46.75,348.97 L47,348.99 L53.5,349 L53.75,348.99 L54,348.94 L54.25,348.78 L54.5,348.46 L54.75,348.03 L55,347.74 L55.25,347.92 L55.5,348.63 L55.75,349.51 L56,350.08 L56.25,350.11 L56.5,349.77 L56.75,349.39 L57,349.14 L57.25,349.04 L57.5,349.01 L94.25,348.99 L94.5,348.96 L94.75,348.84 L95,348.46 L95.25,347.55 L95.5,345.89 L95.75,343.7 L96,341.85 L96.25,341.34 L96.5,342.48 L96.75,344.6 L97,346.64 L97.25,348 L97.5,348.66 L97.75,348.91 L98,348.98 L98.25,349 L119.5,348.99 L119.75,348.95 L120,348.77 L120.25,348.18 L120.5,346.67 L120.75,343.77 L121,339.68 L121.25,335.82 L121.5,334.2 L121.75,335.82 L122,339.68 L122.25,343.77 L122.5,346.67 L122.75,348.18 L123,348.77 L123.25,348.95 L123.5,348.99 L127.75,349 L128,348.98 L128.25,348.94 L128.5,348.84 L128.75,348.65 L129,348.37 L129.25,348.11 L129.5,348 L129.75,348.11 L130,348.37 L130.25,348.65 L130.5,348.84 L130.75,348.94 L131,348.98 L131.25,349 L154.5,349 L154.75,348.98 L155,348.9 L155.25,348.52 L155.5,347.22 L155.75,343.71 L156,336.57 L156.25,325.79 L156.5,314.62 L156.75,308.59 L157,311.29 L157.25,321.08 L157.5,332.59 L157.75,341.35 L158,346.17 L158.25,348.17 L158.5,348.81 L158.75,348.96 L159,348.99 L217,349" fill="none" stroke="#a874e2" stroke-width="0.8" stroke-linejoin="round"/>
<text x="218.1" y="352.4" font-size="9.0">1 min</text>
<text x="260.2" y="222.1" font-size="9.0"><tspan font-weight="bold">f</tspan> pH 12.0</text>
<line x1="16.3" y1="577.8" x2="235.3" y2="577.8" stroke="#222" stroke-width="1"/>
<line x1="16.3" y1="577.8" x2="16.3" y2="579.7" stroke="#222" stroke-width="0.8"/>
<text x="16.3" y="588.9" font-size="9.5" text-anchor="middle">0</text>
<line x1="25.06" y1="577.8" x2="25.06" y2="579.1" stroke="#222" stroke-width="0.8"/>
<line x1="33.82" y1="577.8" x2="33.82" y2="579.1" stroke="#222" stroke-width="0.8"/>
<line x1="42.58" y1="577.8" x2="42.58" y2="579.1" stroke="#222" stroke-width="0.8"/>
<line x1="51.34" y1="577.8" x2="51.34" y2="579.1" stroke="#222" stroke-width="0.8"/>
<line x1="60.1" y1="577.8" x2="60.1" y2="579.7" stroke="#222" stroke-width="0.8"/>
<text x="60.1" y="588.9" font-size="9.5" text-anchor="middle">5</text>
<line x1="68.86" y1="577.8" x2="68.86" y2="579.1" stroke="#222" stroke-width="0.8"/>
<line x1="77.62" y1="577.8" x2="77.62" y2="579.1" stroke="#222" stroke-width="0.8"/>
<line x1="86.38" y1="577.8" x2="86.38" y2="579.1" stroke="#222" stroke-width="0.8"/>
<line x1="95.14" y1="577.8" x2="95.14" y2="579.1" stroke="#222" stroke-width="0.8"/>
<line x1="103.9" y1="577.8" x2="103.9" y2="579.7" stroke="#222" stroke-width="0.8"/>
<text x="103.9" y="588.9" font-size="9.5" text-anchor="middle">10</text>
<line x1="112.66" y1="577.8" x2="112.66" y2="579.1" stroke="#222" stroke-width="0.8"/>
<line x1="121.42" y1="577.8" x2="121.42" y2="579.1" stroke="#222" stroke-width="0.8"/>
<line x1="130.18" y1="577.8" x2="130.18" y2="579.1" stroke="#222" stroke-width="0.8"/>
<line x1="138.94" y1="577.8" x2="138.94" y2="579.1" stroke="#222" stroke-width="0.8"/>
<line x1="147.7" y1="577.8" x2="147.7" y2="579.7" stroke="#222" stroke-width="0.8"/>
<text x="147.7" y="588.9" font-size="9.5" text-anchor="middle">15</text>
<line x1="156.46" y1="577.8" x2="156.46" y2="579.1" stroke="#222" stroke-width="0.8"/>
<line x1="165.22" y1="577.8" x2="165.22" y2="579.1" stroke="#222" stroke-width="0.8"/>
<line x1="173.98" y1="577.8" x2="173.98" y2="579.1" stroke="#222" stroke-width="0.8"/>
<line x1="182.74" y1="577.8" x2="182.74" y2="579.1" stroke="#222" stroke-width="0.8"/>
<line x1="191.5" y1="577.8" x2="191.5" y2="579.7" stroke="#222" stroke-width="0.8"/>
<text x="191.5" y="588.9" font-size="9.5" text-anchor="middle">20</text>
<line x1="200.26" y1="577.8" x2="200.26" y2="579.1" stroke="#222" stroke-width="0.8"/>
<line x1="209.02" y1="577.8" x2="209.02" y2="579.1" stroke="#222" stroke-width="0.8"/>
<line x1="217.78" y1="577.8" x2="217.78" y2="579.1" stroke="#222" stroke-width="0.8"/>
<line x1="226.54" y1="577.8" x2="226.54" y2="579.1" stroke="#222" stroke-width="0.8"/>
<line x1="235.3" y1="577.8" x2="235.3" y2="579.7" stroke="#222" stroke-width="0.8"/>
<text x="235.3" y="588.9" font-size="9.5" text-anchor="middle">25</text>
<text x="126" y="605.8" font-size="10.1" text-anchor="middle">Retention time (min)</text>
<path d="M80.8,500.42 L97.55,500.43 L97.8,500.46 L98.05,500.51 L98.3,500.6 L98.55,500.75 L98.8,500.94 L99.05,501.14 L99.3,501.27 L99.55,501.3 L99.8,501.19 L100.05,500.95 L100.3,500.64 L100.55,500.31 L100.8,500.06 L101.05,499.92 L101.3,499.93 L101.55,500.04 L101.8,500.19 L102.05,500.3 L102.3,500.37 L102.55,500.4 L102.8,500.42 L103.3,500.42 L103.55,500.4 L103.8,500.34 L104.05,500.13 L104.3,499.62 L104.55,498.7 L104.8,497.52 L105.05,496.6 L105.3,496.54 L105.55,497.51 L105.8,499.17 L106.05,501.02 L106.3,502.62 L106.55,503.57 L106.8,503.61 L107.05,502.86 L107.3,501.79 L107.55,500.87 L107.8,500.27 L108.05,499.97 L108.3,499.88 L108.55,499.95 L108.8,500.09 L109.05,500.23 L109.3,500.33 L109.55,500.38 L109.8,500.41 L110.3,500.42 L117.3,500.41 L117.55,500.37 L117.8,500.26 L118.05,500.01 L118.3,499.61 L118.55,499.19 L118.8,499.01 L119.05,499.32 L119.3,500.08 L119.55,500.96 L119.8,501.57 L120.05,501.69 L120.3,501.42 L120.55,501.02 L120.8,500.69 L121.05,500.52 L121.3,500.45 L121.55,500.43 L161.3,500.41 L161.55,500.37 L161.8,500.22 L162.05,499.79 L162.3,498.73 L162.55,496.65 L162.8,493.47 L163.05,489.76 L163.3,486.85 L163.55,486.07 L163.8,487.82 L164.05,491.23 L164.3,494.86 L164.55,497.62 L164.8,499.25 L165.05,500.01 L165.3,500.3 L165.55,500.39 L165.8,500.41 L189.55,500.41 L189.8,500.35 L190.05,500.12 L190.3,499.24 L190.55,496.62 L190.8,490.23 L191.05,477.78 L191.3,458.62 L191.55,436.33 L191.8,418.82 L192.05,414.14 L192.3,424.66 L192.55,445.18 L192.8,466.97 L193.05,483.6 L193.3,493.4 L193.55,497.98 L193.8,499.72 L194.05,500.25 L194.3,500.39 L194.55,500.41 L198.55,500.41 L198.8,500.39 L199.05,500.34 L199.3,500.22 L199.55,500.01 L199.8,499.72 L200.05,499.42 L200.3,499.24 L200.55,499.26 L200.8,499.47 L201.05,499.78 L201.3,500.06 L201.55,500.25 L201.8,500.35 L202.05,500.4 L202.3,500.41 L221.55,500.42 L222.55,500.4 L222.8,500.39 L223.05,500.37 L223.3,500.35 L223.55,500.32 L223.8,500.29 L224.05,500.24 L224.3,500.19 L224.55,500.14 L224.8,500.08 L225.05,500.02 L225.3,499.96 L225.55,499.91 L225.8,499.87 L226.05,499.84 L226.3,499.82 L226.55,499.82 L226.8,499.84 L227.05,499.87 L227.3,499.92 L227.55,499.97 L227.8,500.03 L228.05,500.09 L228.3,500.15 L228.55,500.21 L228.8,500.25 L229.05,500.29 L229.3,500.33 L229.55,500.35 L229.8,500.37 L230.05,500.39 L230.3,500.4 L230.55,500.41 L231.55,500.42 L296.6,500.42" fill="none" stroke="#7c7c7c" stroke-width="0.85" stroke-linejoin="round"/>
<text x="296.7" y="504.02" font-size="10.0">360 min</text>
<path d="M70.9,511.8 L87.65,511.81 L87.9,511.84 L88.15,511.89 L88.4,511.98 L88.65,512.13 L88.9,512.32 L89.15,512.52 L89.4,512.65 L89.65,512.68 L89.9,512.57 L90.15,512.33 L90.4,512.02 L90.65,511.69 L90.9,511.44 L91.15,511.3 L91.4,511.31 L91.65,511.42 L91.9,511.57 L92.15,511.68 L92.4,511.75 L92.65,511.78 L92.9,511.8 L93.4,511.8 L93.65,511.78 L93.9,511.72 L94.15,511.51 L94.4,511 L94.65,510.08 L94.9,508.9 L95.15,507.98 L95.4,507.92 L95.65,508.89 L95.9,510.55 L96.15,512.4 L96.4,514 L96.65,514.95 L96.9,514.99 L97.15,514.24 L97.4,513.17 L97.65,512.25 L97.9,511.65 L98.15,511.35 L98.4,511.26 L98.65,511.33 L98.9,511.47 L99.15,511.61 L99.4,511.71 L99.65,511.76 L99.9,511.79 L100.4,511.8 L107.4,511.79 L107.65,511.75 L107.9,511.64 L108.15,511.39 L108.4,510.99 L108.65,510.57 L108.9,510.39 L109.15,510.7 L109.4,511.46 L109.65,512.34 L109.9,512.95 L110.15,513.07 L110.4,512.8 L110.65,512.4 L110.9,512.07 L111.15,511.9 L111.4,511.83 L111.65,511.81 L151.4,511.8 L151.65,511.79 L151.9,511.74 L152.15,511.56 L152.4,511.05 L152.65,509.85 L152.9,507.63 L153.15,504.38 L153.4,500.84 L153.65,498.36 L153.9,498.11 L154.15,500.21 L154.4,503.66 L154.65,507.05 L154.9,509.5 L155.15,510.87 L155.4,511.49 L155.65,511.71 L155.9,511.78 L156.15,511.8 L179.15,511.8 L179.4,511.78 L179.65,511.71 L179.9,511.41 L180.15,510.33 L180.4,507.23 L180.65,500.01 L180.9,486.54 L181.15,466.86 L181.4,445.42 L181.65,430.37 L181.9,428.84 L182.15,441.62 L182.4,462.49 L182.65,483.03 L182.9,497.86 L183.15,506.19 L183.4,509.93 L183.65,511.28 L183.9,511.68 L184.15,511.78 L184.4,511.8 L188.65,511.79 L188.9,511.76 L189.15,511.7 L189.4,511.57 L189.65,511.37 L189.9,511.11 L190.15,510.89 L190.4,510.8 L190.65,510.89 L190.9,511.11 L191.15,511.37 L191.4,511.57 L191.65,511.7 L191.9,511.76 L192.15,511.79 L192.65,511.8 L286.95,511.8" fill="none" stroke="#e67e7e" stroke-width="0.85" stroke-linejoin="round"/>
<text x="288.3" y="515.4" font-size="10.0">240 min</text>
<path d="M61,523.18 L77.75,523.19 L78,523.22 L78.25,523.27 L78.5,523.36 L78.75,523.51 L79,523.7 L79.25,523.9 L79.5,524.03 L79.75,524.06 L80,523.95 L80.25,523.71 L80.5,523.4 L80.75,523.07 L81,522.82 L81.25,522.68 L81.5,522.69 L81.75,522.8 L82,522.95 L82.25,523.06 L82.5,523.13 L82.75,523.16 L83,523.18 L83.5,523.18 L83.75,523.16 L84,523.1 L84.25,522.89 L84.5,522.38 L84.75,521.46 L85,520.28 L85.25,519.36 L85.5,519.3 L85.75,520.27 L86,521.93 L86.25,523.78 L86.5,525.38 L86.75,526.33 L87,526.37 L87.25,525.62 L87.5,524.55 L87.75,523.63 L88,523.03 L88.25,522.73 L88.5,522.64 L88.75,522.71 L89,522.85 L89.25,522.99 L89.5,523.09 L89.75,523.14 L90,523.17 L90.5,523.18 L97.5,523.17 L97.75,523.13 L98,523.02 L98.25,522.77 L98.5,522.37 L98.75,521.95 L99,521.77 L99.25,522.08 L99.5,522.84 L99.75,523.72 L100,524.33 L100.25,524.45 L100.5,524.18 L100.75,523.78 L101,523.45 L101.25,523.28 L101.5,523.21 L101.75,523.19 L141.5,523.17 L141.75,523.15 L142,523.07 L142.25,522.81 L142.5,522.1 L142.75,520.6 L143,518.04 L143.25,514.7 L143.5,511.55 L143.75,509.93 L144,510.65 L144.25,513.34 L144.5,516.76 L144.75,519.7 L145,521.62 L145.25,522.6 L145.5,523 L145.75,523.13 L146,523.17 L169.5,523.18 L169.75,523.16 L170,523.06 L170.25,522.65 L170.5,521.29 L170.75,517.51 L171,509.09 L171.25,494.1 L171.5,473.34 L171.75,452.25 L172,439.34 L172.25,440.88 L172.5,456.09 L172.75,477.76 L173,497.65 L173.25,511.26 L173.5,518.56 L173.75,521.69 L174,522.78 L174.25,523.09 L174.5,523.16 L174.75,523.18 L178.75,523.18 L179,523.17 L179.25,523.14 L179.5,523.06 L179.75,522.92 L180,522.7 L180.25,522.44 L180.5,522.24 L180.75,522.18 L181,522.31 L181.25,522.54 L181.5,522.79 L181.75,522.99 L182,523.1 L182.25,523.15 L182.5,523.17 L277.3,523.18" fill="none" stroke="#6666e2" stroke-width="0.85" stroke-linejoin="round"/>
<text x="279.8" y="526.78" font-size="10.0">120 min</text>
<path d="M51.1,534.56 L67.85,534.57 L68.1,534.6 L68.35,534.65 L68.6,534.74 L68.85,534.89 L69.1,535.08 L69.35,535.28 L69.6,535.41 L69.85,535.44 L70.1,535.33 L70.35,535.09 L70.6,534.78 L70.85,534.45 L71.1,534.2 L71.35,534.06 L71.6,534.07 L71.85,534.18 L72.1,534.33 L72.35,534.44 L72.6,534.51 L72.85,534.54 L73.1,534.56 L73.6,534.56 L73.85,534.54 L74.1,534.48 L74.35,534.27 L74.6,533.76 L74.85,532.84 L75.1,531.66 L75.35,530.74 L75.6,530.68 L75.85,531.65 L76.1,533.31 L76.35,535.16 L76.6,536.76 L76.85,537.71 L77.1,537.75 L77.35,537 L77.6,535.93 L77.85,535.01 L78.1,534.41 L78.35,534.11 L78.6,534.02 L78.85,534.09 L79.1,534.23 L79.35,534.37 L79.6,534.47 L79.85,534.52 L80.1,534.55 L80.6,534.56 L87.6,534.55 L87.85,534.51 L88.1,534.4 L88.35,534.15 L88.6,533.75 L88.85,533.33 L89.1,533.15 L89.35,533.46 L89.6,534.22 L89.85,535.1 L90.1,535.71 L90.35,535.83 L90.6,535.56 L90.85,535.16 L91.1,534.83 L91.35,534.66 L91.6,534.59 L91.85,534.57 L131.85,534.55 L132.1,534.53 L132.35,534.42 L132.6,534.11 L132.85,533.31 L133.1,531.66 L133.35,529.01 L133.6,525.73 L133.85,522.9 L134.1,521.76 L134.35,522.9 L134.6,525.73 L134.85,529.01 L135.1,531.66 L135.35,533.31 L135.6,534.11 L135.85,534.42 L136.1,534.53 L136.35,534.55 L159.6,534.55 L159.85,534.51 L160.1,534.34 L160.35,533.67 L160.6,531.59 L160.85,526.3 L161.1,515.49 L161.35,498.02 L161.6,476.42 L161.85,457.74 L162.1,450.26 L162.35,457.74 L162.6,476.42 L162.85,498.02 L163.1,515.49 L163.35,526.3 L163.6,531.59 L163.85,533.67 L164.1,534.34 L164.35,534.51 L164.6,534.55 L169.1,534.56 L169.35,534.54 L169.6,534.51 L169.85,534.42 L170.1,534.26 L170.35,534.03 L170.6,533.77 L170.85,533.59 L171.1,533.57 L171.35,533.73 L171.6,533.97 L171.85,534.22 L172.1,534.39 L172.35,534.49 L172.6,534.54 L172.85,534.55 L267.65,534.56" fill="none" stroke="#ee62ee" stroke-width="0.85" stroke-linejoin="round"/>
<text x="271.3" y="538.16" font-size="10.0">60 min</text>
<path d="M41.2,545.94 L57.95,545.95 L58.2,545.98 L58.45,546.03 L58.7,546.12 L58.95,546.27 L59.2,546.46 L59.45,546.66 L59.7,546.79 L59.95,546.82 L60.2,546.71 L60.45,546.47 L60.7,546.16 L60.95,545.83 L61.2,545.58 L61.45,545.44 L61.7,545.45 L61.95,545.56 L62.2,545.71 L62.45,545.82 L62.7,545.89 L62.95,545.92 L63.2,545.94 L63.7,545.94 L63.95,545.92 L64.2,545.86 L64.45,545.65 L64.7,545.14 L64.95,544.22 L65.2,543.04 L65.45,542.12 L65.7,542.06 L65.95,543.03 L66.2,544.69 L66.45,546.54 L66.7,548.14 L66.95,549.09 L67.2,549.13 L67.45,548.38 L67.7,547.31 L67.95,546.39 L68.2,545.79 L68.45,545.49 L68.7,545.4 L68.95,545.47 L69.2,545.61 L69.45,545.75 L69.7,545.85 L69.95,545.9 L70.2,545.93 L70.7,545.94 L77.7,545.93 L77.95,545.89 L78.2,545.78 L78.45,545.53 L78.7,545.13 L78.95,544.71 L79.2,544.53 L79.45,544.84 L79.7,545.6 L79.95,546.48 L80.2,547.09 L80.45,547.21 L80.7,546.94 L80.95,546.54 L81.2,546.21 L81.45,546.04 L81.7,545.97 L81.95,545.95 L121.7,545.94 L121.95,545.93 L122.2,545.87 L122.45,545.69 L122.7,545.17 L122.95,543.97 L123.2,541.71 L123.45,538.42 L123.7,534.82 L123.95,532.3 L124.2,532.05 L124.45,534.19 L124.7,537.68 L124.95,541.12 L125.2,543.61 L125.45,545 L125.7,545.63 L125.95,545.85 L126.2,545.92 L126.45,545.94 L149.45,545.94 L149.7,545.92 L149.95,545.85 L150.2,545.54 L150.45,544.45 L150.7,541.32 L150.95,534.02 L151.2,520.41 L151.45,500.52 L151.7,478.85 L151.95,463.64 L152.2,462.1 L152.45,475.01 L152.7,496.1 L152.95,516.86 L153.2,531.85 L153.45,540.27 L153.7,544.05 L153.95,545.41 L154.2,545.82 L154.45,545.92 L154.7,545.94 L158.95,545.93 L159.2,545.9 L159.45,545.84 L159.7,545.71 L159.95,545.51 L160.2,545.25 L160.45,545.03 L160.7,544.94 L160.95,545.03 L161.2,545.25 L161.45,545.51 L161.7,545.71 L161.95,545.84 L162.2,545.9 L162.45,545.93 L162.95,545.94 L185.7,545.94 L185.95,545.93 L186.2,545.9 L186.45,545.83 L186.7,545.7 L186.95,545.51 L187.2,545.31 L187.45,545.17 L187.7,545.15 L187.95,545.27 L188.2,545.47 L188.45,545.67 L188.7,545.81 L188.95,545.89 L189.2,545.92 L189.45,545.94 L258,545.94" fill="none" stroke="#62b262" stroke-width="0.85" stroke-linejoin="round"/>
<text x="261" y="549.54" font-size="10.0">30 min</text>
<path d="M31.3,557.32 L48.05,557.33 L48.3,557.36 L48.55,557.41 L48.8,557.5 L49.05,557.65 L49.3,557.84 L49.55,558.04 L49.8,558.17 L50.05,558.2 L50.3,558.09 L50.55,557.85 L50.8,557.54 L51.05,557.21 L51.3,556.96 L51.55,556.82 L51.8,556.83 L52.05,556.94 L52.3,557.09 L52.55,557.2 L52.8,557.27 L53.05,557.3 L53.3,557.32 L53.8,557.32 L54.05,557.3 L54.3,557.24 L54.55,557.03 L54.8,556.52 L55.05,555.6 L55.3,554.42 L55.55,553.5 L55.8,553.44 L56.05,554.41 L56.3,556.07 L56.55,557.92 L56.8,559.52 L57.05,560.47 L57.3,560.51 L57.55,559.76 L57.8,558.69 L58.05,557.77 L58.3,557.17 L58.55,556.87 L58.8,556.78 L59.05,556.85 L59.3,556.99 L59.55,557.13 L59.8,557.23 L60.05,557.28 L60.3,557.31 L60.8,557.32 L67.8,557.31 L68.05,557.27 L68.3,557.16 L68.55,556.91 L68.8,556.51 L69.05,556.09 L69.3,555.91 L69.55,556.22 L69.8,556.98 L70.05,557.86 L70.3,558.47 L70.55,558.59 L70.8,558.32 L71.05,557.92 L71.3,557.59 L71.55,557.42 L71.8,557.35 L72.05,557.33 L111.8,557.31 L112.05,557.29 L112.3,557.21 L112.55,556.93 L112.8,556.19 L113.05,554.62 L113.3,551.95 L113.55,548.45 L113.8,545.16 L114.05,543.47 L114.3,544.22 L114.55,547.03 L114.8,550.61 L115.05,553.69 L115.3,555.69 L115.55,556.71 L115.8,557.13 L116.05,557.27 L116.3,557.31 L116.8,557.32 L139.55,557.31 L139.8,557.29 L140.05,557.17 L140.3,556.67 L140.55,555.08 L140.8,550.85 L141.05,541.82 L141.3,526.5 L141.55,506.42 L141.8,487.51 L142.05,477.82 L142.3,482.13 L142.55,498.26 L142.8,518.8 L143.05,536.45 L143.3,547.93 L143.55,553.81 L143.8,556.23 L144.05,557.04 L144.3,557.26 L144.55,557.31 L145.05,557.32 L148.55,557.31 L148.8,557.3 L149.05,557.25 L149.3,557.15 L149.55,556.98 L149.8,556.73 L150.05,556.49 L150.3,556.33 L150.55,556.35 L150.8,556.53 L151.05,556.79 L151.3,557.02 L151.55,557.18 L151.8,557.27 L152.05,557.3 L152.3,557.32 L248.35,557.32" fill="none" stroke="#8c8cc0" stroke-width="0.85" stroke-linejoin="round"/>
<text x="250.9" y="560.92" font-size="10.0">10 min</text>
<path d="M21.4,568.7 L38.15,568.71 L38.4,568.74 L38.65,568.79 L38.9,568.88 L39.15,569.03 L39.4,569.22 L39.65,569.42 L39.9,569.55 L40.15,569.58 L40.4,569.47 L40.65,569.23 L40.9,568.92 L41.15,568.59 L41.4,568.34 L41.65,568.2 L41.9,568.21 L42.15,568.32 L42.4,568.47 L42.65,568.58 L42.9,568.65 L43.15,568.68 L43.4,568.7 L43.9,568.7 L44.15,568.68 L44.4,568.62 L44.65,568.41 L44.9,567.9 L45.15,566.98 L45.4,565.8 L45.65,564.88 L45.9,564.82 L46.15,565.79 L46.4,567.45 L46.65,569.3 L46.9,570.9 L47.15,571.85 L47.4,571.89 L47.65,571.14 L47.9,570.07 L48.15,569.15 L48.4,568.55 L48.65,568.25 L48.9,568.16 L49.15,568.23 L49.4,568.37 L49.65,568.51 L49.9,568.61 L50.15,568.66 L50.4,568.69 L50.9,568.7 L57.9,568.69 L58.15,568.65 L58.4,568.54 L58.65,568.29 L58.9,567.89 L59.15,567.47 L59.4,567.29 L59.65,567.6 L59.9,568.36 L60.15,569.24 L60.4,569.85 L60.65,569.97 L60.9,569.7 L61.15,569.3 L61.4,568.97 L61.65,568.8 L61.9,568.73 L62.15,568.71 L101.4,568.7 L101.65,568.69 L101.9,568.64 L102.15,568.48 L102.4,568.02 L102.65,566.95 L102.9,564.95 L103.15,562.03 L103.4,558.85 L103.65,556.61 L103.9,556.38 L104.15,558.28 L104.4,561.38 L104.65,564.43 L104.9,566.63 L105.15,567.87 L105.4,568.42 L105.65,568.62 L105.9,568.68 L106.15,568.7 L129.9,568.7 L130.15,568.67 L130.4,568.56 L130.65,568.13 L130.9,566.81 L131.15,563.45 L131.4,556.58 L131.65,545.47 L131.9,531.74 L132.15,519.85 L132.4,515.1 L132.65,519.85 L132.9,531.74 L133.15,545.47 L133.4,556.58 L133.65,563.45 L133.9,566.81 L134.15,568.13 L134.4,568.56 L134.65,568.67 L134.9,568.7 L168.65,568.69 L168.9,568.67 L169.15,568.59 L169.4,568.29 L169.65,567.46 L169.9,565.62 L170.15,562.34 L170.4,557.81 L170.65,553.2 L170.9,550.37 L171.15,550.71 L171.4,554.04 L171.65,558.77 L171.9,563.12 L172.15,566.09 L172.4,567.69 L172.65,568.37 L172.9,568.61 L173.15,568.68 L173.4,568.7 L238.7,568.7" fill="none" stroke="#a874e2" stroke-width="0.85" stroke-linejoin="round"/>
<text x="239.7" y="572.3" font-size="10.0">1 min</text>
<text x="280.8" y="425.2" font-size="10.15"><tspan font-weight="bold">g</tspan> pH 13.0</text>
<line x1="15.9" y1="788.5" x2="327.15" y2="788.5" stroke="#222" stroke-width="1"/>
<line x1="15.9" y1="788.5" x2="15.9" y2="791.9" stroke="#222" stroke-width="0.9"/>
<text x="15.9" y="801.9" font-size="8.9" text-anchor="middle">0</text>
<line x1="47.02" y1="788.5" x2="47.02" y2="790.5" stroke="#222" stroke-width="0.9"/>
<line x1="78.15" y1="788.5" x2="78.15" y2="791.9" stroke="#222" stroke-width="0.9"/>
<text x="78.15" y="801.9" font-size="8.9" text-anchor="middle">5</text>
<line x1="109.28" y1="788.5" x2="109.28" y2="790.5" stroke="#222" stroke-width="0.9"/>
<line x1="140.4" y1="788.5" x2="140.4" y2="791.9" stroke="#222" stroke-width="0.9"/>
<text x="140.4" y="801.9" font-size="8.9" text-anchor="middle">10</text>
<line x1="171.53" y1="788.5" x2="171.53" y2="790.5" stroke="#222" stroke-width="0.9"/>
<line x1="202.65" y1="788.5" x2="202.65" y2="791.9" stroke="#222" stroke-width="0.9"/>
<text x="202.65" y="801.9" font-size="8.9" text-anchor="middle">15</text>
<line x1="233.78" y1="788.5" x2="233.78" y2="790.5" stroke="#222" stroke-width="0.9"/>
<line x1="264.9" y1="788.5" x2="264.9" y2="791.9" stroke="#222" stroke-width="0.9"/>
<text x="264.9" y="801.9" font-size="8.9" text-anchor="middle">20</text>
<line x1="296.02" y1="788.5" x2="296.02" y2="790.5" stroke="#222" stroke-width="0.9"/>
<line x1="327.15" y1="788.5" x2="327.15" y2="791.9" stroke="#222" stroke-width="0.9"/>
<text x="327.15" y="801.9" font-size="8.9" text-anchor="middle">25</text>
<text x="171.8" y="817.2" font-size="8.9" text-anchor="middle">Retention time (min)</text>
<path d="M15.9,777.3 L21.9,777.31 L27.9,777.32 L33.9,777.33 L39.15,777.34 L41.15,777.36 L41.4,777.39 L41.65,777.49 L41.9,777.71 L42.15,778.06 L42.4,778.43 L42.65,778.63 L42.9,778.52 L43.15,778.13 L43.4,777.65 L43.65,777.25 L43.9,777.03 L44.15,776.99 L44.4,777.07 L44.65,777.18 L44.9,777.28 L45.15,777.34 L45.4,777.38 L45.65,777.43 L45.9,777.55 L46.15,777.76 L46.4,778.12 L46.65,778.6 L46.9,779.16 L47.15,779.65 L47.4,779.93 L47.65,779.9 L47.9,779.56 L48.15,779.04 L48.4,778.48 L48.65,777.99 L48.9,777.64 L49.15,777.41 L49.4,777.25 L49.65,777.11 L49.9,776.97 L50.15,776.81 L50.4,776.61 L50.65,776.38 L50.9,776.14 L51.15,775.88 L51.4,775.64 L51.65,775.43 L51.9,775.27 L52.15,775.18 L52.4,775.18 L52.65,775.25 L52.9,775.39 L53.15,775.6 L53.4,775.84 L53.65,776.1 L53.9,776.36 L54.15,776.61 L54.4,776.84 L54.65,777.07 L54.9,777.31 L55.15,777.56 L55.4,777.85 L55.65,778.16 L55.9,778.47 L56.15,778.76 L56.4,778.97 L56.65,779.07 L56.9,779.04 L57.15,778.88 L57.4,778.65 L57.65,778.38 L57.9,778.12 L58.15,777.92 L58.4,777.79 L58.65,777.73 L58.9,777.73 L59.15,777.77 L59.4,777.84 L59.65,777.91 L59.9,777.96 L60.15,777.99 L60.4,777.97 L60.65,777.93 L60.9,777.86 L61.15,777.77 L61.4,777.68 L61.65,777.6 L61.9,777.53 L62.15,777.48 L62.4,777.44 L62.65,777.42 L62.9,777.41 L63.4,777.4 L70.15,777.41 L70.4,777.41 L70.65,777.44 L70.9,777.51 L71.15,777.69 L71.4,777.99 L71.65,778.35 L71.9,778.58 L72.15,778.56 L72.4,778.28 L72.65,777.92 L72.9,777.65 L73.15,777.5 L73.4,777.43 L73.65,777.42 L82.15,777.43 L88.15,777.44 L94.15,777.45 L100.15,777.46 L106.15,777.47 L112.15,777.49 L117.15,777.49 L117.4,777.47 L117.65,777.44 L117.9,777.37 L118.15,777.23 L118.4,777.03 L118.65,776.77 L118.9,776.49 L119.15,776.28 L119.4,776.2 L119.65,776.28 L119.9,776.49 L120.15,776.77 L120.4,777.03 L120.65,777.24 L120.9,777.37 L121.15,777.45 L121.4,777.48 L121.65,777.5 L123.15,777.51 L128.4,777.52 L133.65,777.52 L133.9,777.5 L134.15,777.45 L134.4,777.31 L134.65,776.99 L134.9,776.28 L135.15,774.83 L135.4,772.09 L135.65,767.31 L135.9,759.63 L136.15,748.26 L136.4,732.87 L136.65,713.95 L136.9,693.07 L137.15,672.84 L137.4,656.46 L137.65,646.87 L137.9,645.97 L138.15,653.92 L138.4,669.16 L138.65,688.88 L138.9,709.86 L139.15,729.34 L139.4,745.5 L139.65,757.67 L139.9,766.04 L140.15,771.33 L140.4,774.41 L140.65,776.07 L140.9,776.9 L141.15,777.28 L141.4,777.44 L141.65,777.51 L141.9,777.53 L142.4,777.54 L147.65,777.55 L153.65,777.57 L159.65,777.58 L165.65,777.59 L171.4,777.59 L171.65,777.58 L171.9,777.56 L172.15,777.51 L172.4,777.42 L172.65,777.28 L172.9,777.12 L173.15,776.95 L173.4,776.84 L173.65,776.81 L173.9,776.88 L174.15,777.02 L174.4,777.19 L174.65,777.35 L174.9,777.46 L175.15,777.54 L175.4,777.58 L175.65,777.6 L176.15,777.61 L181.65,777.62 L187.65,777.63 L190.65,777.63 L190.9,777.61 L191.15,777.56 L191.4,777.46 L191.65,777.27 L191.9,776.99 L192.15,776.63 L192.4,776.25 L192.65,775.95 L192.9,775.84 L193.15,775.95 L193.4,776.25 L193.65,776.63 L193.9,776.99 L194.15,777.28 L194.4,777.46 L194.65,777.57 L194.9,777.61 L195.15,777.64 L195.65,777.65 L200.9,777.66 L206.9,777.67 L212.9,777.68 L218.4,777.69 L225.9,777.68 L227.15,777.67 L227.9,777.66 L228.65,777.64 L229.15,777.63 L229.65,777.62 L230.15,777.61 L230.65,777.6 L231.15,777.58 L231.65,777.56 L232.15,777.55 L232.65,777.53 L233.15,777.51 L233.65,777.49 L234.15,777.47 L234.65,777.45 L235.15,777.43 L235.65,777.42 L236.15,777.4 L236.65,777.38 L237.15,777.37 L237.65,777.36 L238.4,777.34 L239.4,777.33 L241.4,777.35 L242.15,777.36 L242.65,777.37 L243.15,777.39 L243.65,777.41 L244.15,777.43 L244.65,777.45 L244.9,777.46 L245.15,777.47 L245.4,777.48 L245.65,777.49 L245.9,777.5 L246.15,777.51 L246.4,777.52 L246.65,777.53 L246.9,777.54 L247.15,777.55 L247.4,777.56 L247.65,777.57 L248.15,777.59 L248.65,777.61 L249.15,777.62 L249.65,777.64 L250.15,777.66 L250.65,777.67 L251.15,777.68 L251.65,777.69 L252.15,777.7 L252.9,777.72 L253.65,777.73 L254.65,777.74 L255.9,777.75 L257.65,777.76 L260.65,777.77 L266.15,777.78 L272.15,777.79 L278.15,777.81 L284.15,777.82 L290.15,777.83 L296.15,777.84 L302.15,777.85 L308.15,777.86 L314.15,777.88 L320.15,777.89 L326.15,777.9 L327,777.9" fill="none" stroke="#333" stroke-width="0.9" stroke-linejoin="round"/>
<text x="216.4" y="656.6" font-size="8.8"><tspan font-weight="bold">h</tspan> Completely hydrolysed</text>
<defs>
<pattern id="p0" width="2.12" height="2.12" patternUnits="userSpaceOnUse" patternTransform="rotate(45)"><rect width="2.12" height="2.12" fill="#fff"/><line x1="0.5" y1="0" x2="0.5" y2="2.12" stroke="#8a8a8a" stroke-width="0.85"/></pattern>
<pattern id="p1" width="2.12" height="2.12" patternUnits="userSpaceOnUse" patternTransform="rotate(-45)"><rect width="2.12" height="2.12" fill="#fff"/><line x1="0.5" y1="0" x2="0.5" y2="2.12" stroke="#f09090" stroke-width="0.85"/></pattern>
<pattern id="p2" width="1.9" height="1.9" patternUnits="userSpaceOnUse" patternTransform="rotate(45)"><rect width="1.9" height="1.9" fill="#f0f0ff"/><line x1="0.4" y1="0" x2="0.4" y2="1.9" stroke="#7a7aee" stroke-width="0.6"/><line x1="0" y1="0.4" x2="1.9" y2="0.4" stroke="#7a7aee" stroke-width="0.6"/></pattern>
<pattern id="p3" width="3" height="1.8" patternUnits="userSpaceOnUse"><rect width="3" height="1.8" fill="#fdf2fd"/><line x1="0" y1="0.5" x2="3" y2="0.5" stroke="#f096f0" stroke-width="0.8"/></pattern>
<pattern id="p4" width="2" height="3" patternUnits="userSpaceOnUse"><rect width="2" height="3" fill="#eef7ee"/><line x1="0.5" y1="0" x2="0.5" y2="3" stroke="#a0cfa0" stroke-width="0.8"/></pattern>
<pattern id="p5" width="1.85" height="1.85" patternUnits="userSpaceOnUse"><rect width="1.85" height="1.85" fill="#f0f0f8"/><line x1="0.5" y1="0" x2="0.5" y2="1.85" stroke="#7c7cb8" stroke-width="0.55"/><line x1="0" y1="0.5" x2="1.85" y2="0.5" stroke="#7c7cb8" stroke-width="0.55"/></pattern>
<pattern id="p6" width="4.4" height="4.4" patternUnits="userSpaceOnUse"><rect width="4.4" height="4.4" fill="#fff"/><line x1="0.5" y1="0" x2="0.5" y2="4.4" stroke="#c49aF2" stroke-width="0.8"/><line x1="0" y1="0.5" x2="4.4" y2="0.5" stroke="#c49af2" stroke-width="0.8"/></pattern>
</defs>
<line x1="387.5" y1="8.5" x2="387.5" y2="155" stroke="#222" stroke-width="1"/>
<line x1="384.2" y1="155" x2="387.5" y2="155" stroke="#222" stroke-width="0.85"/>
<text x="381.4" y="157.9" font-size="9" text-anchor="end">0</text>
<line x1="385.5" y1="140.35" x2="387.5" y2="140.35" stroke="#222" stroke-width="0.85"/>
<line x1="384.2" y1="125.7" x2="387.5" y2="125.7" stroke="#222" stroke-width="0.85"/>
<text x="381.4" y="128.6" font-size="9" text-anchor="end">20</text>
<line x1="385.5" y1="111.05" x2="387.5" y2="111.05" stroke="#222" stroke-width="0.85"/>
<line x1="384.2" y1="96.4" x2="387.5" y2="96.4" stroke="#222" stroke-width="0.85"/>
<text x="381.4" y="99.3" font-size="9" text-anchor="end">40</text>
<line x1="385.5" y1="81.75" x2="387.5" y2="81.75" stroke="#222" stroke-width="0.85"/>
<line x1="384.2" y1="67.1" x2="387.5" y2="67.1" stroke="#222" stroke-width="0.85"/>
<text x="381.4" y="70" font-size="9" text-anchor="end">60</text>
<line x1="385.5" y1="52.45" x2="387.5" y2="52.45" stroke="#222" stroke-width="0.85"/>
<line x1="384.2" y1="37.8" x2="387.5" y2="37.8" stroke="#222" stroke-width="0.85"/>
<text x="381.4" y="40.7" font-size="9" text-anchor="end">80</text>
<line x1="385.5" y1="23.15" x2="387.5" y2="23.15" stroke="#222" stroke-width="0.85"/>
<line x1="384.2" y1="8.5" x2="387.5" y2="8.5" stroke="#222" stroke-width="0.85"/>
<text x="381.4" y="11.4" font-size="9" text-anchor="end">100</text>
<text x="0" y="0" font-size="9.1" text-anchor="middle" transform="translate(359.9,87.25) rotate(-90)">Composition (%)</text>
<rect x="396.9" y="33.55" width="11" height="121.45" fill="url(#p0)" stroke="#5a5a5a" stroke-width="0.9"/>
<rect x="407.9" y="75.01" width="11" height="79.99" fill="url(#p1)" stroke="#e05050" stroke-width="0.9"/>
<rect x="418.9" y="87.9" width="11" height="67.1" fill="url(#p2)" stroke="#3a3ad8" stroke-width="0.9"/>
<rect x="429.9" y="118.96" width="11" height="36.04" fill="url(#p3)" stroke="#ee50ee" stroke-width="0.9"/>
<rect x="440.9" y="145.18" width="11" height="9.82" fill="url(#p4)" stroke="#50a850" stroke-width="0.9"/>
<rect x="491.9" y="142.4" width="11" height="12.6" fill="url(#p0)" stroke="#5a5a5a" stroke-width="0.9"/>
<rect x="502.9" y="104.31" width="11" height="50.69" fill="url(#p1)" stroke="#e05050" stroke-width="0.9"/>
<rect x="513.9" y="97.57" width="11" height="57.43" fill="url(#p2)" stroke="#3a3ad8" stroke-width="0.9"/>
<rect x="524.9" y="67.25" width="11" height="87.75" fill="url(#p3)" stroke="#ee50ee" stroke-width="0.9"/>
<rect x="535.9" y="41.46" width="11" height="113.54" fill="url(#p4)" stroke="#50a850" stroke-width="0.9"/>
<rect x="546.9" y="32.53" width="11" height="122.47" fill="url(#p5)" stroke="#353585" stroke-width="0.9"/>
<rect x="557.9" y="32.53" width="11" height="122.47" fill="url(#p6)" stroke="#a448f0" stroke-width="0.9"/>
<rect x="587.1" y="142.4" width="11" height="12.6" fill="url(#p0)" stroke="#5a5a5a" stroke-width="0.9"/>
<rect x="598.1" y="138.88" width="11" height="16.12" fill="url(#p1)" stroke="#e05050" stroke-width="0.9"/>
<rect x="609.1" y="132.44" width="11" height="22.56" fill="url(#p2)" stroke="#3a3ad8" stroke-width="0.9"/>
<rect x="620.1" y="131.41" width="11" height="23.59" fill="url(#p3)" stroke="#ee50ee" stroke-width="0.9"/>
<rect x="631.1" y="131.41" width="11" height="23.59" fill="url(#p4)" stroke="#50a850" stroke-width="0.9"/>
<rect x="642.1" y="131.12" width="11" height="23.88" fill="url(#p5)" stroke="#353585" stroke-width="0.9"/>
<rect x="653.1" y="130.97" width="11" height="24.03" fill="url(#p6)" stroke="#a448f0" stroke-width="0.9"/>
<line x1="387.5" y1="155" x2="673.6" y2="155" stroke="#222" stroke-width="1"/>
<line x1="435.4" y1="155" x2="435.4" y2="158" stroke="#222" stroke-width="0.85"/>
<text x="435.4" y="167.9" font-size="9.1" text-anchor="middle">Compound 1</text>
<line x1="530.4" y1="155" x2="530.4" y2="158" stroke="#222" stroke-width="0.85"/>
<text x="530.4" y="167.9" font-size="9.1" text-anchor="middle">Compound 2</text>
<line x1="625.6" y1="155" x2="625.6" y2="158" stroke="#222" stroke-width="0.85"/>
<text x="625.6" y="167.9" font-size="9.1" text-anchor="middle">Compound 3</text>
<line x1="387.5" y1="155" x2="387.5" y2="157.8" stroke="#222" stroke-width="0.85"/>
<line x1="483" y1="155" x2="483" y2="157.8" stroke="#222" stroke-width="0.85"/>
<line x1="578.2" y1="155" x2="578.2" y2="157.8" stroke="#222" stroke-width="0.85"/>
<line x1="673.3" y1="155" x2="673.3" y2="157.8" stroke="#222" stroke-width="0.85"/>
<rect x="368" y="174.4" width="16.6" height="7.8" fill="url(#p0)" stroke="#5a5a5a" stroke-width="0.9"/>
<text x="387.3" y="180.9" font-size="7.6">1 min</text>
<rect x="407" y="174.4" width="16.6" height="7.8" fill="url(#p1)" stroke="#e05050" stroke-width="0.9"/>
<text x="426.3" y="180.9" font-size="7.6">10 min</text>
<rect x="449.7" y="174.4" width="16.6" height="7.8" fill="url(#p2)" stroke="#3a3ad8" stroke-width="0.9"/>
<text x="469" y="180.9" font-size="7.6">30 min</text>
<rect x="492.3" y="174.4" width="16.6" height="7.8" fill="url(#p3)" stroke="#ee50ee" stroke-width="0.9"/>
<text x="511.6" y="180.9" font-size="7.6">60 min</text>
<rect x="535.1" y="174.4" width="16.6" height="7.8" fill="url(#p4)" stroke="#50a850" stroke-width="0.9"/>
<text x="554.4" y="180.9" font-size="7.6">120 min</text>
<rect x="582.3" y="174.4" width="16.6" height="7.8" fill="url(#p5)" stroke="#353585" stroke-width="0.9"/>
<text x="601.6" y="180.9" font-size="7.6">240 min</text>
<rect x="628.9" y="174.4" width="16.6" height="7.8" fill="url(#p6)" stroke="#a448f0" stroke-width="0.9"/>
<text x="648.2" y="180.9" font-size="7.6">360 min</text>
<text x="672.2" y="17.9" font-size="9.25" text-anchor="end"><tspan font-weight="bold">m</tspan> pH 11.0</text>
<line x1="387.5" y1="211.1" x2="387.5" y2="357.4" stroke="#222" stroke-width="1"/>
<line x1="384.2" y1="357.4" x2="387.5" y2="357.4" stroke="#222" stroke-width="0.85"/>
<text x="381.4" y="360.3" font-size="9" text-anchor="end">0</text>
<line x1="385.5" y1="342.77" x2="387.5" y2="342.77" stroke="#222" stroke-width="0.85"/>
<line x1="384.2" y1="328.14" x2="387.5" y2="328.14" stroke="#222" stroke-width="0.85"/>
<text x="381.4" y="331.04" font-size="9" text-anchor="end">20</text>
<line x1="385.5" y1="313.51" x2="387.5" y2="313.51" stroke="#222" stroke-width="0.85"/>
<line x1="384.2" y1="298.88" x2="387.5" y2="298.88" stroke="#222" stroke-width="0.85"/>
<text x="381.4" y="301.78" font-size="9" text-anchor="end">40</text>
<line x1="385.5" y1="284.25" x2="387.5" y2="284.25" stroke="#222" stroke-width="0.85"/>
<line x1="384.2" y1="269.62" x2="387.5" y2="269.62" stroke="#222" stroke-width="0.85"/>
<text x="381.4" y="272.52" font-size="9" text-anchor="end">60</text>
<line x1="385.5" y1="254.99" x2="387.5" y2="254.99" stroke="#222" stroke-width="0.85"/>
<line x1="384.2" y1="240.36" x2="387.5" y2="240.36" stroke="#222" stroke-width="0.85"/>
<text x="381.4" y="243.26" font-size="9" text-anchor="end">80</text>
<line x1="385.5" y1="225.73" x2="387.5" y2="225.73" stroke="#222" stroke-width="0.85"/>
<line x1="384.2" y1="211.1" x2="387.5" y2="211.1" stroke="#222" stroke-width="0.85"/>
<text x="381.4" y="214" font-size="9" text-anchor="end">100</text>
<text x="0" y="0" font-size="9.1" text-anchor="middle" transform="translate(359.9,289.75) rotate(-90)">Composition (%)</text>
<rect x="397" y="248.55" width="11" height="108.85" fill="url(#p0)" stroke="#5a5a5a" stroke-width="0.9"/>
<rect x="408" y="303.71" width="11" height="53.69" fill="url(#p1)" stroke="#e05050" stroke-width="0.9"/>
<rect x="419" y="347.45" width="11" height="9.95" fill="url(#p2)" stroke="#3a3ad8" stroke-width="0.9"/>
<rect x="492" y="333.26" width="11" height="24.14" fill="url(#p0)" stroke="#5a5a5a" stroke-width="0.9"/>
<rect x="503" y="281.18" width="11" height="76.22" fill="url(#p1)" stroke="#e05050" stroke-width="0.9"/>
<rect x="514" y="239.48" width="11" height="117.92" fill="url(#p2)" stroke="#3a3ad8" stroke-width="0.9"/>
<rect x="525" y="231.29" width="11" height="126.11" fill="url(#p3)" stroke="#ee50ee" stroke-width="0.9"/>
<rect x="536" y="231.29" width="11" height="126.11" fill="url(#p4)" stroke="#50a850" stroke-width="0.9"/>
<rect x="547" y="232.17" width="11" height="125.23" fill="url(#p5)" stroke="#353585" stroke-width="0.9"/>
<rect x="558" y="232.17" width="11" height="125.23" fill="url(#p6)" stroke="#a448f0" stroke-width="0.9"/>
<rect x="587.2" y="343.94" width="11" height="13.46" fill="url(#p0)" stroke="#5a5a5a" stroke-width="0.9"/>
<rect x="598.2" y="339.84" width="11" height="17.56" fill="url(#p1)" stroke="#e05050" stroke-width="0.9"/>
<rect x="609.2" y="337.94" width="11" height="19.46" fill="url(#p2)" stroke="#3a3ad8" stroke-width="0.9"/>
<rect x="620.2" y="336.92" width="11" height="20.48" fill="url(#p3)" stroke="#ee50ee" stroke-width="0.9"/>
<rect x="631.2" y="336.92" width="11" height="20.48" fill="url(#p4)" stroke="#50a850" stroke-width="0.9"/>
<rect x="642.2" y="335.89" width="11" height="21.51" fill="url(#p5)" stroke="#353585" stroke-width="0.9"/>
<rect x="653.2" y="335.89" width="11" height="21.51" fill="url(#p6)" stroke="#a448f0" stroke-width="0.9"/>
<line x1="387.5" y1="357.4" x2="673.7" y2="357.4" stroke="#222" stroke-width="1"/>
<line x1="435.5" y1="357.4" x2="435.5" y2="360.4" stroke="#222" stroke-width="0.85"/>
<text x="435.5" y="370.4" font-size="9.1" text-anchor="middle">Compound 1</text>
<line x1="530.5" y1="357.4" x2="530.5" y2="360.4" stroke="#222" stroke-width="0.85"/>
<text x="530.5" y="370.4" font-size="9.1" text-anchor="middle">Compound 2</text>
<line x1="625.7" y1="357.4" x2="625.7" y2="360.4" stroke="#222" stroke-width="0.85"/>
<text x="625.7" y="370.4" font-size="9.1" text-anchor="middle">Compound 3</text>
<line x1="387.5" y1="357.4" x2="387.5" y2="360.2" stroke="#222" stroke-width="0.85"/>
<line x1="483.1" y1="357.4" x2="483.1" y2="360.2" stroke="#222" stroke-width="0.85"/>
<line x1="578.3" y1="357.4" x2="578.3" y2="360.2" stroke="#222" stroke-width="0.85"/>
<line x1="673.4" y1="357.4" x2="673.4" y2="360.2" stroke="#222" stroke-width="0.85"/>
<rect x="368.5" y="378.1" width="16.6" height="7.8" fill="url(#p0)" stroke="#5a5a5a" stroke-width="0.9"/>
<text x="387.8" y="384.6" font-size="7.6">1 min</text>
<rect x="407.5" y="378.1" width="16.6" height="7.8" fill="url(#p1)" stroke="#e05050" stroke-width="0.9"/>
<text x="426.8" y="384.6" font-size="7.6">10 min</text>
<rect x="450.2" y="378.1" width="16.6" height="7.8" fill="url(#p2)" stroke="#3a3ad8" stroke-width="0.9"/>
<text x="469.5" y="384.6" font-size="7.6">30 min</text>
<rect x="492.8" y="378.1" width="16.6" height="7.8" fill="url(#p3)" stroke="#ee50ee" stroke-width="0.9"/>
<text x="512.1" y="384.6" font-size="7.6">60 min</text>
<rect x="535.6" y="378.1" width="16.6" height="7.8" fill="url(#p4)" stroke="#50a850" stroke-width="0.9"/>
<text x="554.9" y="384.6" font-size="7.6">120 min</text>
<rect x="582.8" y="378.1" width="16.6" height="7.8" fill="url(#p5)" stroke="#353585" stroke-width="0.9"/>
<text x="602.1" y="384.6" font-size="7.6">240 min</text>
<rect x="629.4" y="378.1" width="16.6" height="7.8" fill="url(#p6)" stroke="#a448f0" stroke-width="0.9"/>
<text x="648.7" y="384.6" font-size="7.6">360 min</text>
<text x="671.5" y="222" font-size="9" text-anchor="end"><tspan font-weight="bold">n</tspan> pH 12.0</text>
<line x1="387.5" y1="415.4" x2="387.5" y2="568.8" stroke="#222" stroke-width="1"/>
<line x1="384.2" y1="568.8" x2="387.5" y2="568.8" stroke="#222" stroke-width="0.85"/>
<text x="381.4" y="571.7" font-size="9" text-anchor="end">0</text>
<line x1="385.5" y1="553.46" x2="387.5" y2="553.46" stroke="#222" stroke-width="0.85"/>
<line x1="384.2" y1="538.12" x2="387.5" y2="538.12" stroke="#222" stroke-width="0.85"/>
<text x="381.4" y="541.02" font-size="9" text-anchor="end">20</text>
<line x1="385.5" y1="522.78" x2="387.5" y2="522.78" stroke="#222" stroke-width="0.85"/>
<line x1="384.2" y1="507.44" x2="387.5" y2="507.44" stroke="#222" stroke-width="0.85"/>
<text x="381.4" y="510.34" font-size="9" text-anchor="end">40</text>
<line x1="385.5" y1="492.1" x2="387.5" y2="492.1" stroke="#222" stroke-width="0.85"/>
<line x1="384.2" y1="476.76" x2="387.5" y2="476.76" stroke="#222" stroke-width="0.85"/>
<text x="381.4" y="479.66" font-size="9" text-anchor="end">60</text>
<line x1="385.5" y1="461.42" x2="387.5" y2="461.42" stroke="#222" stroke-width="0.85"/>
<line x1="384.2" y1="446.08" x2="387.5" y2="446.08" stroke="#222" stroke-width="0.85"/>
<text x="381.4" y="448.98" font-size="9" text-anchor="end">80</text>
<line x1="385.5" y1="430.74" x2="387.5" y2="430.74" stroke="#222" stroke-width="0.85"/>
<line x1="384.2" y1="415.4" x2="387.5" y2="415.4" stroke="#222" stroke-width="0.85"/>
<text x="381.4" y="418.3" font-size="9" text-anchor="end">100</text>
<text x="0" y="0" font-size="9.5" text-anchor="middle" transform="translate(359.9,497.6) rotate(-90)">Composition (%)</text>
<rect x="396.1" y="520.63" width="11" height="48.17" fill="url(#p0)" stroke="#5a5a5a" stroke-width="0.9"/>
<rect x="407.1" y="566.65" width="11" height="2.15" fill="url(#p1)" stroke="#e05050" stroke-width="0.9"/>
<rect x="491.1" y="484.43" width="11" height="84.37" fill="url(#p0)" stroke="#5a5a5a" stroke-width="0.9"/>
<rect x="502.1" y="440.56" width="11" height="128.24" fill="url(#p1)" stroke="#e05050" stroke-width="0.9"/>
<rect x="513.1" y="437.49" width="11" height="131.31" fill="url(#p2)" stroke="#3a3ad8" stroke-width="0.9"/>
<rect x="524.1" y="437.49" width="11" height="131.31" fill="url(#p3)" stroke="#ee50ee" stroke-width="0.9"/>
<rect x="535.1" y="437.8" width="11" height="131" fill="url(#p4)" stroke="#50a850" stroke-width="0.9"/>
<rect x="546.1" y="438.1" width="11" height="130.7" fill="url(#p5)" stroke="#353585" stroke-width="0.9"/>
<rect x="557.1" y="438.41" width="11" height="130.39" fill="url(#p6)" stroke="#a448f0" stroke-width="0.9"/>
<rect x="586.3" y="548.4" width="11" height="20.4" fill="url(#p0)" stroke="#5a5a5a" stroke-width="0.9"/>
<rect x="597.3" y="547.32" width="11" height="21.48" fill="url(#p1)" stroke="#e05050" stroke-width="0.9"/>
<rect x="608.3" y="546.86" width="11" height="21.94" fill="url(#p2)" stroke="#3a3ad8" stroke-width="0.9"/>
<rect x="619.3" y="546.86" width="11" height="21.94" fill="url(#p3)" stroke="#ee50ee" stroke-width="0.9"/>
<rect x="630.3" y="546.86" width="11" height="21.94" fill="url(#p4)" stroke="#50a850" stroke-width="0.9"/>
<rect x="641.3" y="546.71" width="11" height="22.09" fill="url(#p5)" stroke="#353585" stroke-width="0.9"/>
<rect x="652.3" y="545.79" width="11" height="23.01" fill="url(#p6)" stroke="#a448f0" stroke-width="0.9"/>
<line x1="387.5" y1="568.8" x2="672.8" y2="568.8" stroke="#222" stroke-width="1"/>
<line x1="434.6" y1="568.8" x2="434.6" y2="571.8" stroke="#222" stroke-width="0.85"/>
<text x="434.6" y="582.4" font-size="9.1" text-anchor="middle">Compound 1</text>
<line x1="529.6" y1="568.8" x2="529.6" y2="571.8" stroke="#222" stroke-width="0.85"/>
<text x="529.6" y="582.4" font-size="9.1" text-anchor="middle">Compound 2</text>
<line x1="624.8" y1="568.8" x2="624.8" y2="571.8" stroke="#222" stroke-width="0.85"/>
<text x="624.8" y="582.4" font-size="9.1" text-anchor="middle">Compound 3</text>
<line x1="387.5" y1="568.8" x2="387.5" y2="571.6" stroke="#222" stroke-width="0.85"/>
<line x1="482.2" y1="568.8" x2="482.2" y2="571.6" stroke="#222" stroke-width="0.85"/>
<line x1="577.4" y1="568.8" x2="577.4" y2="571.6" stroke="#222" stroke-width="0.85"/>
<line x1="672.5" y1="568.8" x2="672.5" y2="571.6" stroke="#222" stroke-width="0.85"/>
<rect x="370.3" y="589.3" width="16.6" height="7.8" fill="url(#p0)" stroke="#5a5a5a" stroke-width="0.9"/>
<text x="389.6" y="595.8" font-size="7.3">1 min</text>
<rect x="408.8" y="589.3" width="16.6" height="7.8" fill="url(#p1)" stroke="#e05050" stroke-width="0.9"/>
<text x="428.1" y="595.8" font-size="7.3">10 min</text>
<rect x="451" y="589.3" width="16.6" height="7.8" fill="url(#p2)" stroke="#3a3ad8" stroke-width="0.9"/>
<text x="470.3" y="595.8" font-size="7.3">30 min</text>
<rect x="493.4" y="589.3" width="16.6" height="7.8" fill="url(#p3)" stroke="#ee50ee" stroke-width="0.9"/>
<text x="512.7" y="595.8" font-size="7.3">60 min</text>
<rect x="536" y="589.3" width="16.6" height="7.8" fill="url(#p4)" stroke="#50a850" stroke-width="0.9"/>
<text x="555.3" y="595.8" font-size="7.3">120 min</text>
<rect x="583" y="589.3" width="16.6" height="7.8" fill="url(#p5)" stroke="#353585" stroke-width="0.9"/>
<text x="602.3" y="595.8" font-size="7.3">240 min</text>
<rect x="629.6" y="589.3" width="16.6" height="7.8" fill="url(#p6)" stroke="#a448f0" stroke-width="0.9"/>
<text x="648.9" y="595.8" font-size="7.3">360 min</text>
<text x="667.6" y="426" font-size="9" text-anchor="end"><tspan font-weight="bold">o</tspan> pH 13.0</text>
<line x1="378.6" y1="630.5" x2="378.6" y2="781" stroke="#222" stroke-width="1"/>
<line x1="378.6" y1="781" x2="672.8" y2="781" stroke="#222" stroke-width="1"/>
<line x1="375.3" y1="774.9" x2="378.6" y2="774.9" stroke="#222" stroke-width="0.85"/>
<text x="373.3" y="778" font-size="8.8" text-anchor="end">0</text>
<line x1="376.6" y1="758.82" x2="378.6" y2="758.82" stroke="#222" stroke-width="0.85"/>
<line x1="375.3" y1="742.75" x2="378.6" y2="742.75" stroke="#222" stroke-width="0.85"/>
<text x="373.3" y="745.85" font-size="8.8" text-anchor="end">1</text>
<line x1="376.6" y1="726.67" x2="378.6" y2="726.67" stroke="#222" stroke-width="0.85"/>
<line x1="375.3" y1="710.6" x2="378.6" y2="710.6" stroke="#222" stroke-width="0.85"/>
<text x="373.3" y="713.7" font-size="8.8" text-anchor="end">2</text>
<line x1="376.6" y1="694.52" x2="378.6" y2="694.52" stroke="#222" stroke-width="0.85"/>
<line x1="375.3" y1="678.45" x2="378.6" y2="678.45" stroke="#222" stroke-width="0.85"/>
<text x="373.3" y="681.55" font-size="8.8" text-anchor="end">3</text>
<line x1="376.6" y1="662.38" x2="378.6" y2="662.38" stroke="#222" stroke-width="0.85"/>
<line x1="375.3" y1="646.3" x2="378.6" y2="646.3" stroke="#222" stroke-width="0.85"/>
<text x="373.3" y="649.4" font-size="8.8" text-anchor="end">4</text>
<line x1="376.6" y1="630.23" x2="378.6" y2="630.23" stroke="#222" stroke-width="0.85"/>
<line x1="380.3" y1="781" x2="380.3" y2="784.3" stroke="#222" stroke-width="0.85"/>
<text x="380.3" y="793.4" font-size="8.8" text-anchor="middle">0</text>
<line x1="399.6" y1="781" x2="399.6" y2="783" stroke="#222" stroke-width="0.85"/>
<line x1="418.9" y1="781" x2="418.9" y2="784.3" stroke="#222" stroke-width="0.85"/>
<text x="418.9" y="793.4" font-size="8.8" text-anchor="middle">50</text>
<line x1="438.2" y1="781" x2="438.2" y2="783" stroke="#222" stroke-width="0.85"/>
<line x1="457.5" y1="781" x2="457.5" y2="784.3" stroke="#222" stroke-width="0.85"/>
<text x="457.5" y="793.4" font-size="8.8" text-anchor="middle">100</text>
<line x1="476.8" y1="781" x2="476.8" y2="783" stroke="#222" stroke-width="0.85"/>
<line x1="496.1" y1="781" x2="496.1" y2="784.3" stroke="#222" stroke-width="0.85"/>
<text x="496.1" y="793.4" font-size="8.8" text-anchor="middle">150</text>
<line x1="515.4" y1="781" x2="515.4" y2="783" stroke="#222" stroke-width="0.85"/>
<line x1="534.7" y1="781" x2="534.7" y2="784.3" stroke="#222" stroke-width="0.85"/>
<text x="534.7" y="793.4" font-size="8.8" text-anchor="middle">200</text>
<line x1="554" y1="781" x2="554" y2="783" stroke="#222" stroke-width="0.85"/>
<line x1="573.3" y1="781" x2="573.3" y2="784.3" stroke="#222" stroke-width="0.85"/>
<text x="573.3" y="793.4" font-size="8.8" text-anchor="middle">250</text>
<line x1="592.6" y1="781" x2="592.6" y2="783" stroke="#222" stroke-width="0.85"/>
<line x1="611.9" y1="781" x2="611.9" y2="784.3" stroke="#222" stroke-width="0.85"/>
<text x="611.9" y="793.4" font-size="8.8" text-anchor="middle">300</text>
<line x1="631.2" y1="781" x2="631.2" y2="783" stroke="#222" stroke-width="0.85"/>
<line x1="650.5" y1="781" x2="650.5" y2="784.3" stroke="#222" stroke-width="0.85"/>
<text x="650.5" y="793.4" font-size="8.8" text-anchor="middle">350</text>
<line x1="669.8" y1="781" x2="669.8" y2="783" stroke="#222" stroke-width="0.85"/>
<text x="526.4" y="810" font-size="8.9" text-anchor="middle">Time (min)</text>
<text x="0" y="0" font-size="8.7" text-anchor="middle" transform="translate(360.8,712.9) rotate(-90)"><tspan font-style="italic">ln</tspan> ([<tspan font-style="italic">D</tspan>]<tspan font-size="6" dy="2">1,<tspan font-style="italic">t</tspan></tspan><tspan dy="-2">/[</tspan><tspan font-style="italic">D</tspan>]<tspan font-size="6" dy="2">1,0</tspan><tspan dy="-2">)</tspan></text>
<text x="660.6" y="643.6" font-size="9" font-weight="bold">p</text>
<line x1="380.3" y1="774.9" x2="658.22" y2="773.29" stroke="#333333" stroke-width="1.0"/>
<rect x="379.17" y="773" width="3.8" height="3.8" fill="none" stroke="#333333" stroke-width="0.9"/>
<rect x="386.12" y="773" width="3.8" height="3.8" fill="none" stroke="#333333" stroke-width="0.9"/>
<rect x="401.56" y="773" width="3.8" height="3.8" fill="none" stroke="#333333" stroke-width="0.9"/>
<rect x="424.72" y="772.68" width="3.8" height="3.8" fill="none" stroke="#333333" stroke-width="0.9"/>
<rect x="471.04" y="772.36" width="3.8" height="3.8" fill="none" stroke="#333333" stroke-width="0.9"/>
<rect x="563.68" y="771.71" width="3.8" height="3.8" fill="none" stroke="#333333" stroke-width="0.9"/>
<rect x="656.32" y="771.07" width="3.8" height="3.8" fill="none" stroke="#333333" stroke-width="0.9"/>
<line x1="380.3" y1="774.9" x2="658.22" y2="771.04" stroke="#e03030" stroke-width="1.0"/>
<circle cx="381.07" cy="774.9" r="2" fill="none" stroke="#e03030" stroke-width="0.9"/>
<circle cx="388.02" cy="774.9" r="2" fill="none" stroke="#e03030" stroke-width="0.9"/>
<circle cx="403.46" cy="774.58" r="2" fill="none" stroke="#e03030" stroke-width="0.9"/>
<circle cx="426.62" cy="774.26" r="2" fill="none" stroke="#e03030" stroke-width="0.9"/>
<circle cx="472.94" cy="773.61" r="2" fill="none" stroke="#e03030" stroke-width="0.9"/>
<circle cx="565.58" cy="772.33" r="2" fill="none" stroke="#e03030" stroke-width="0.9"/>
<circle cx="658.22" cy="770.72" r="2" fill="none" stroke="#e03030" stroke-width="0.9"/>
<line x1="380.3" y1="775.54" x2="658.22" y2="717.35" stroke="#2a2ad8" stroke-width="1.0"/>
<path d="M381.07,772.59 L383.17,776.48 L378.97,776.48 Z" fill="none" stroke="#2a2ad8" stroke-width="0.9"/>
<path d="M388.02,771.95 L390.12,775.83 L385.92,775.83 Z" fill="none" stroke="#2a2ad8" stroke-width="0.9"/>
<path d="M403.46,769.05 L405.56,772.94 L401.36,772.94 Z" fill="none" stroke="#2a2ad8" stroke-width="0.9"/>
<path d="M426.62,764.23 L428.72,768.12 L424.52,768.12 Z" fill="none" stroke="#2a2ad8" stroke-width="0.9"/>
<path d="M472.94,754.26 L475.04,758.15 L470.84,758.15 Z" fill="none" stroke="#2a2ad8" stroke-width="0.9"/>
<path d="M565.58,735.62 L567.68,739.5 L563.48,739.5 Z" fill="none" stroke="#2a2ad8" stroke-width="0.9"/>
<path d="M658.22,713.76 L660.32,717.64 L656.12,717.64 Z" fill="none" stroke="#2a2ad8" stroke-width="0.9"/>
<line x1="380.3" y1="775.54" x2="565.58" y2="689.38" stroke="#e83ae8" stroke-width="1.0"/>
<path d="M381.07,777.21 L383.17,773.32 L378.97,773.32 Z" fill="none" stroke="#e83ae8" stroke-width="0.9"/>
<path d="M388.02,774.96 L390.12,771.07 L385.92,771.07 Z" fill="none" stroke="#e83ae8" stroke-width="0.9"/>
<path d="M403.46,767.56 L405.56,763.68 L401.36,763.68 Z" fill="none" stroke="#e83ae8" stroke-width="0.9"/>
<path d="M426.62,756.63 L428.72,752.75 L424.52,752.75 Z" fill="none" stroke="#e83ae8" stroke-width="0.9"/>
<path d="M472.94,733.16 L475.04,729.28 L470.84,729.28 Z" fill="none" stroke="#e83ae8" stroke-width="0.9"/>
<path d="M565.58,691.05 L567.68,687.16 L563.48,687.16 Z" fill="none" stroke="#e83ae8" stroke-width="0.9"/>
<line x1="380.3" y1="774.9" x2="472.94" y2="692.27" stroke="#2a9a2a" stroke-width="1.0"/>
<path d="M388.02,759.3 L390.23,761.4 L388.02,763.5 L385.82,761.4 Z" fill="none" stroke="#2a9a2a" stroke-width="0.9"/>
<path d="M403.46,753.51 L405.67,755.61 L403.46,757.71 L401.26,755.61 Z" fill="none" stroke="#2a9a2a" stroke-width="0.9"/>
<path d="M426.62,733.26 L428.82,735.36 L426.62,737.46 L424.42,735.36 Z" fill="none" stroke="#2a9a2a" stroke-width="0.9"/>
<path d="M472.94,690.17 L475.14,692.27 L472.94,694.37 L470.74,692.27 Z" fill="none" stroke="#2a9a2a" stroke-width="0.9"/>
<line x1="380.3" y1="775.54" x2="403.46" y2="691.31" stroke="#262690" stroke-width="1.0"/>
<path d="M378.76,772.65 L382.65,770.55 L382.65,774.75 Z" fill="none" stroke="#262690" stroke-width="0.9"/>
<path d="M385.71,748.22 L389.6,746.12 L389.6,750.32 Z" fill="none" stroke="#262690" stroke-width="0.9"/>
<path d="M401.15,691.31 L405.04,689.21 L405.04,693.41 Z" fill="none" stroke="#262690" stroke-width="0.9"/>
<line x1="380.15" y1="765.9" x2="388.02" y2="643.09" stroke="#9a30f0" stroke-width="1.0"/>
<path d="M383.38,743.39 L379.5,741.29 L379.5,745.49 Z" fill="none" stroke="#9a30f0" stroke-width="0.9"/>
<path d="M390.33,643.09 L386.45,640.99 L386.45,645.19 Z" fill="none" stroke="#9a30f0" stroke-width="0.9"/>
<rect x="365.6" y="815.5" width="4" height="4" fill="none" stroke="#333333" stroke-width="0.85"/>
<text x="377.6" y="820.7" font-size="9">pH 6.8</text>
<circle cx="409.6" cy="817.5" r="2.1" fill="none" stroke="#e03030" stroke-width="0.85"/>
<text x="419.3" y="820.7" font-size="9">pH 8.0</text>
<path d="M451.7,815.08 L453.9,819.15 L449.5,819.15 Z" fill="none" stroke="#2a2ad8" stroke-width="0.85"/>
<text x="460.9" y="820.7" font-size="9">pH 9.0</text>
<path d="M493.7,819.92 L495.9,815.85 L491.5,815.85 Z" fill="none" stroke="#e83ae8" stroke-width="0.85"/>
<text x="502.8" y="820.7" font-size="9">pH 10.0</text>
<path d="M540.1,815.3 L542.41,817.5 L540.1,819.7 L537.79,817.5 Z" fill="none" stroke="#2a9a2a" stroke-width="0.85"/>
<text x="549.1" y="820.7" font-size="9">pH 11.0</text>
<path d="M584.18,817.5 L588.25,815.3 L588.25,819.7 Z" fill="none" stroke="#262690" stroke-width="0.85"/>
<text x="596.3" y="820.7" font-size="9">pH 12.0</text>
<path d="M636.62,817.5 L632.55,815.3 L632.55,819.7 Z" fill="none" stroke="#9a30f0" stroke-width="0.85"/>
<text x="642.8" y="820.7" font-size="9">pH 13.0</text>
<rect x="0" y="0" width="685" height="1" fill="#e8e8e8"/><rect x="0" y="0" width="1" height="847" fill="#e8e8e8"/>
<rect x="1.5" y="1.5" width="682" height="844" fill="none" stroke="#444" stroke-width="1.1"/>
</svg>
</body></html>
